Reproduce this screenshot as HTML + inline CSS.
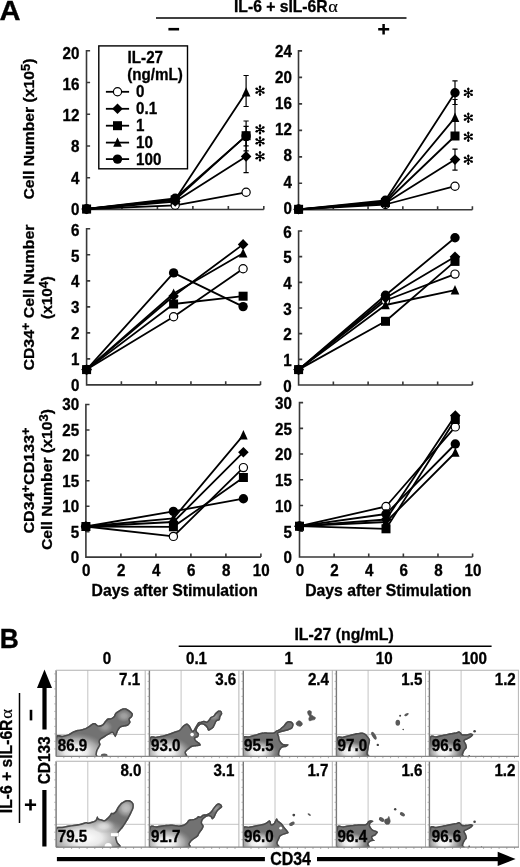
<!DOCTYPE html>
<html><head><meta charset="utf-8"><title>Figure</title>
<style>html,body{margin:0;padding:0;background:#fff;}body{width:520px;height:867px;overflow:hidden;position:relative;font-family:"Liberation Sans", sans-serif;}</style>
</head><body>
<svg width="520" height="867" viewBox="0 0 520 867" style="display:block;position:absolute;left:0;top:0;filter:grayscale(1)" font-family='"Liberation Sans", sans-serif'>
<rect width="520" height="867" fill="#fff"/>
<text transform="translate(-0.4,20.1) scale(1.12,1.06)" font-size="26" text-anchor="start" font-weight="bold" stroke="#000" stroke-width="0.3" >A</text>
<text transform="translate(234.0,12.0) scale(1,1.12)" font-size="15.2" text-anchor="start" font-weight="bold" stroke="#000" stroke-width="0.3" textLength="93.6" lengthAdjust="spacingAndGlyphs" >IL-6 + sIL-6R</text>
<text transform="translate(328.3,11.9)" font-family="Liberation Serif" font-size="16.5" textLength="9.6" lengthAdjust="spacingAndGlyphs" stroke="#000" stroke-width="0.2">&#945;</text>
<path d="M156 18H406.5" stroke="#000" stroke-width="1.5"/>
<path d="M168.4 29.2H179.1" stroke="#000" stroke-width="2.6"/>
<path d="M378.2 29.2H389.2M383.6 24.1V34.6" stroke="#000" stroke-width="2.5"/>
<path d="M90.1 50.8H86.5V209.5H263.8" stroke="#383838" stroke-width="1.6" fill="none" stroke-linejoin="miter"/>
<path d="M86.5 177.76H90.1M86.5 146.02H90.1M86.5 114.28H90.1M86.5 82.54H90.1M121.96 209.5V205.9M157.42 209.5V205.9M192.88 209.5V205.9M228.34 209.5V205.9M263.80 209.5V205.9" stroke="#383838" stroke-width="1.6" fill="none"/>
<text transform="translate(79.5,214.75) scale(1,1.12)" font-size="15.2" text-anchor="end" font-weight="bold" stroke="#000" stroke-width="0.3" >0</text>
<text transform="translate(79.5,183.56) scale(1,1.12)" font-size="15.2" text-anchor="end" font-weight="bold" stroke="#000" stroke-width="0.3" >4</text>
<text transform="translate(79.5,152.37) scale(1,1.12)" font-size="15.2" text-anchor="end" font-weight="bold" stroke="#000" stroke-width="0.3" >8</text>
<text transform="translate(79.5,121.18) scale(1,1.12)" font-size="15.2" text-anchor="end" font-weight="bold" stroke="#000" stroke-width="0.3" >12</text>
<text transform="translate(79.5,89.99) scale(1,1.12)" font-size="15.2" text-anchor="end" font-weight="bold" stroke="#000" stroke-width="0.3" >16</text>
<text transform="translate(79.5,58.8) scale(1,1.12)" font-size="15.2" text-anchor="end" font-weight="bold" stroke="#000" stroke-width="0.3" >20</text>
<rect x="98.8" y="45.9" width="88.7" height="122.9" fill="#fff" stroke="#000" stroke-width="1.4"/>
<text transform="translate(127.6,62.6) scale(1,1.12)" font-size="15.2" text-anchor="start" font-weight="bold" stroke="#000" stroke-width="0.3" >IL-27</text>
<text transform="translate(127.2,80.2) scale(1,1.12)" font-size="15.2" text-anchor="start" font-weight="bold" stroke="#000" stroke-width="0.3" >(ng/mL)</text>
<path d="M105.9 91.8H129.1" stroke="#000" stroke-width="1.8"/>
<circle cx="117.5" cy="91.8" r="4.1" fill="#fff" stroke="#000" stroke-width="1.2"/>
<text transform="translate(136,97.2) scale(1,1.12)" font-size="15.2" text-anchor="start" font-weight="bold" stroke="#000" stroke-width="0.3" >0</text>
<path d="M105.9 108.8H129.1" stroke="#000" stroke-width="1.8"/>
<path d="M117.5 103.5L122.8 108.8L117.5 114.1L112.2 108.8Z" fill="#000"/>
<text transform="translate(136,114.2) scale(1,1.12)" font-size="15.2" text-anchor="start" font-weight="bold" stroke="#000" stroke-width="0.3" >0.1</text>
<path d="M105.9 125.7H129.1" stroke="#000" stroke-width="1.8"/>
<rect x="113.0" y="121.2" width="9.0" height="9.0" fill="#000"/>
<text transform="translate(136,131.1) scale(1,1.12)" font-size="15.2" text-anchor="start" font-weight="bold" stroke="#000" stroke-width="0.3" >1</text>
<path d="M105.9 142.6H129.1" stroke="#000" stroke-width="1.8"/>
<path d="M117.5 137.5L121.8 146.79999999999998L113.2 146.79999999999998Z" fill="#000"/>
<text transform="translate(136,148.0) scale(1,1.12)" font-size="15.2" text-anchor="start" font-weight="bold" stroke="#000" stroke-width="0.3" >10</text>
<path d="M105.9 159.1H129.1" stroke="#000" stroke-width="1.8"/>
<circle cx="117.5" cy="159.1" r="4.7" fill="#000"/>
<text transform="translate(136,164.5) scale(1,1.12)" font-size="15.2" text-anchor="start" font-weight="bold" stroke="#000" stroke-width="0.3" >100</text>
<path d="M246.1 75.5V106.5M243.5 75.5H248.7M243.5 106.5H248.7" stroke="#000" stroke-width="1.2" fill="none"/>
<path d="M246.1 121V150.8M243.5 121H248.7M243.5 150.8H248.7" stroke="#000" stroke-width="1.2" fill="none"/>
<path d="M246.1 126.3V145.8M243.5 126.3H248.7M243.5 145.8H248.7" stroke="#000" stroke-width="1.2" fill="none"/>
<path d="M246.1 140.3V172.7M243.5 140.3H248.7M243.5 172.7H248.7" stroke="#000" stroke-width="1.2" fill="none"/>
<polyline points="86.6,209.0 175.2,205.3 246.1,192.3" fill="none" stroke="#000" stroke-width="1.8" stroke-linejoin="round"/>
<polyline points="86.6,209.0 175.2,201.5 246.1,156.4" fill="none" stroke="#000" stroke-width="1.8" stroke-linejoin="round"/>
<polyline points="86.6,209.0 175.2,199.8 246.1,135.7" fill="none" stroke="#000" stroke-width="1.8" stroke-linejoin="round"/>
<polyline points="86.6,209.0 175.2,199.5 246.1,92.3" fill="none" stroke="#000" stroke-width="1.8" stroke-linejoin="round"/>
<polyline points="86.6,209.0 175.2,198.3 246.1,135.9" fill="none" stroke="#000" stroke-width="1.8" stroke-linejoin="round"/>
<circle cx="86.6" cy="209.0" r="4.1" fill="#fff" stroke="#000" stroke-width="1.2"/>
<circle cx="175.2" cy="205.3" r="4.1" fill="#fff" stroke="#000" stroke-width="1.2"/>
<circle cx="246.1" cy="192.3" r="4.1" fill="#fff" stroke="#000" stroke-width="1.2"/>
<path d="M86.6 203.7L91.89999999999999 209.0L86.6 214.3L81.3 209.0Z" fill="#000"/>
<path d="M175.2 196.2L180.5 201.5L175.2 206.8L169.89999999999998 201.5Z" fill="#000"/>
<path d="M246.1 151.1L251.4 156.4L246.1 161.70000000000002L240.79999999999998 156.4Z" fill="#000"/>
<rect x="82.1" y="204.5" width="9.0" height="9.0" fill="#000"/>
<rect x="170.7" y="195.3" width="9.0" height="9.0" fill="#000"/>
<rect x="241.6" y="131.2" width="9.0" height="9.0" fill="#000"/>
<path d="M86.6 203.9L90.89999999999999 213.2L82.3 213.2Z" fill="#000"/>
<path d="M175.2 194.4L179.5 203.7L170.89999999999998 203.7Z" fill="#000"/>
<path d="M246.1 87.2L250.4 96.5L241.79999999999998 96.5Z" fill="#000"/>
<circle cx="86.6" cy="209.0" r="4.7" fill="#000"/>
<circle cx="175.2" cy="198.3" r="4.7" fill="#000"/>
<circle cx="246.1" cy="135.9" r="4.7" fill="#000"/>
<path d="M260.00 90.70L260.00 86.10M260.00 90.70L263.98 88.40M260.00 90.70L263.98 93.00M260.00 90.70L260.00 95.30M260.00 90.70L256.02 88.40M260.00 90.70L256.02 93.00" stroke="#000" stroke-width="1.2" stroke-linecap="round"/><circle cx="260.00" cy="87.00" r="1.25"/><circle cx="263.20" cy="88.85" r="1.25"/><circle cx="263.20" cy="92.55" r="1.25"/><circle cx="260.00" cy="94.40" r="1.25"/><circle cx="256.80" cy="88.85" r="1.25"/><circle cx="256.80" cy="92.55" r="1.25"/>
<path d="M260.00 129.40L260.00 124.80M260.00 129.40L263.98 127.10M260.00 129.40L263.98 131.70M260.00 129.40L260.00 134.00M260.00 129.40L256.02 127.10M260.00 129.40L256.02 131.70" stroke="#000" stroke-width="1.2" stroke-linecap="round"/><circle cx="260.00" cy="125.70" r="1.25"/><circle cx="263.20" cy="127.55" r="1.25"/><circle cx="263.20" cy="131.25" r="1.25"/><circle cx="260.00" cy="133.10" r="1.25"/><circle cx="256.80" cy="127.55" r="1.25"/><circle cx="256.80" cy="131.25" r="1.25"/>
<path d="M260.00 141.40L260.00 136.80M260.00 141.40L263.98 139.10M260.00 141.40L263.98 143.70M260.00 141.40L260.00 146.00M260.00 141.40L256.02 139.10M260.00 141.40L256.02 143.70" stroke="#000" stroke-width="1.2" stroke-linecap="round"/><circle cx="260.00" cy="137.70" r="1.25"/><circle cx="263.20" cy="139.55" r="1.25"/><circle cx="263.20" cy="143.25" r="1.25"/><circle cx="260.00" cy="145.10" r="1.25"/><circle cx="256.80" cy="139.55" r="1.25"/><circle cx="256.80" cy="143.25" r="1.25"/>
<path d="M260.00 156.30L260.00 151.70M260.00 156.30L263.98 154.00M260.00 156.30L263.98 158.60M260.00 156.30L260.00 160.90M260.00 156.30L256.02 154.00M260.00 156.30L256.02 158.60" stroke="#000" stroke-width="1.2" stroke-linecap="round"/><circle cx="260.00" cy="152.60" r="1.25"/><circle cx="263.20" cy="154.45" r="1.25"/><circle cx="263.20" cy="158.15" r="1.25"/><circle cx="260.00" cy="160.00" r="1.25"/><circle cx="256.80" cy="154.45" r="1.25"/><circle cx="256.80" cy="158.15" r="1.25"/>
<path d="M302.1 50.9H298.5V209.8H472.4" stroke="#383838" stroke-width="1.6" fill="none" stroke-linejoin="miter"/>
<path d="M298.5 183.32H302.1M298.5 156.83H302.1M298.5 130.35H302.1M298.5 103.87H302.1M298.5 77.38H302.1M333.28 209.8V206.20000000000002M368.06 209.8V206.20000000000002M402.84 209.8V206.20000000000002M437.62 209.8V206.20000000000002M472.40 209.8V206.20000000000002" stroke="#383838" stroke-width="1.6" fill="none"/>
<text transform="translate(291.85,213.7) scale(1,1.12)" font-size="15.2" text-anchor="end" font-weight="bold" stroke="#000" stroke-width="0.3" >0</text>
<text transform="translate(291.85,187.55) scale(1,1.12)" font-size="15.2" text-anchor="end" font-weight="bold" stroke="#000" stroke-width="0.3" >4</text>
<text transform="translate(291.85,161.4) scale(1,1.12)" font-size="15.2" text-anchor="end" font-weight="bold" stroke="#000" stroke-width="0.3" >8</text>
<text transform="translate(291.85,135.25) scale(1,1.12)" font-size="15.2" text-anchor="end" font-weight="bold" stroke="#000" stroke-width="0.3" >12</text>
<text transform="translate(291.85,109.1) scale(1,1.12)" font-size="15.2" text-anchor="end" font-weight="bold" stroke="#000" stroke-width="0.3" >16</text>
<text transform="translate(291.85,82.95) scale(1,1.12)" font-size="15.2" text-anchor="end" font-weight="bold" stroke="#000" stroke-width="0.3" >20</text>
<text transform="translate(291.85,56.8) scale(1,1.12)" font-size="15.2" text-anchor="end" font-weight="bold" stroke="#000" stroke-width="0.3" >24</text>
<path d="M455.0 80.8V104.5M452.4 80.8H457.6M452.4 104.5H457.6" stroke="#000" stroke-width="1.2" fill="none"/>
<path d="M455.0 99.5V135.9M452.4 99.5H457.6M452.4 135.9H457.6" stroke="#000" stroke-width="1.2" fill="none"/>
<path d="M455.0 149.2V170.1M452.4 149.2H457.6M452.4 170.1H457.6" stroke="#000" stroke-width="1.2" fill="none"/>
<polyline points="298.6,209.3 385.4,204.5 455.0,186.2" fill="none" stroke="#000" stroke-width="1.8" stroke-linejoin="round"/>
<polyline points="298.6,209.3 385.4,203.2 455.0,159.6" fill="none" stroke="#000" stroke-width="1.8" stroke-linejoin="round"/>
<polyline points="298.6,209.3 385.4,202.5 455.0,136.0" fill="none" stroke="#000" stroke-width="1.8" stroke-linejoin="round"/>
<polyline points="298.6,209.3 385.4,201.5 455.0,117.7" fill="none" stroke="#000" stroke-width="1.8" stroke-linejoin="round"/>
<polyline points="298.6,209.3 385.4,200.3 455.0,92.8" fill="none" stroke="#000" stroke-width="1.8" stroke-linejoin="round"/>
<circle cx="298.6" cy="209.3" r="4.1" fill="#fff" stroke="#000" stroke-width="1.2"/>
<circle cx="385.4" cy="204.5" r="4.1" fill="#fff" stroke="#000" stroke-width="1.2"/>
<circle cx="455.0" cy="186.2" r="4.1" fill="#fff" stroke="#000" stroke-width="1.2"/>
<path d="M298.6 204.0L303.90000000000003 209.3L298.6 214.60000000000002L293.3 209.3Z" fill="#000"/>
<path d="M385.4 197.89999999999998L390.7 203.2L385.4 208.5L380.09999999999997 203.2Z" fill="#000"/>
<path d="M455.0 154.29999999999998L460.3 159.6L455.0 164.9L449.7 159.6Z" fill="#000"/>
<rect x="294.1" y="204.8" width="9.0" height="9.0" fill="#000"/>
<rect x="380.9" y="198.0" width="9.0" height="9.0" fill="#000"/>
<rect x="450.5" y="131.5" width="9.0" height="9.0" fill="#000"/>
<path d="M298.6 204.20000000000002L302.90000000000003 213.5L294.3 213.5Z" fill="#000"/>
<path d="M385.4 196.4L389.7 205.7L381.09999999999997 205.7Z" fill="#000"/>
<path d="M455.0 112.60000000000001L459.3 121.9L450.7 121.9Z" fill="#000"/>
<circle cx="298.6" cy="209.3" r="4.7" fill="#000"/>
<circle cx="385.4" cy="200.3" r="4.7" fill="#000"/>
<circle cx="455.0" cy="92.8" r="4.7" fill="#000"/>
<path d="M468.30 92.80L468.30 88.20M468.30 92.80L472.28 90.50M468.30 92.80L472.28 95.10M468.30 92.80L468.30 97.40M468.30 92.80L464.32 90.50M468.30 92.80L464.32 95.10" stroke="#000" stroke-width="1.2" stroke-linecap="round"/><circle cx="468.30" cy="89.10" r="1.25"/><circle cx="471.50" cy="90.95" r="1.25"/><circle cx="471.50" cy="94.65" r="1.25"/><circle cx="468.30" cy="96.50" r="1.25"/><circle cx="465.10" cy="90.95" r="1.25"/><circle cx="465.10" cy="94.65" r="1.25"/>
<path d="M468.30 117.70L468.30 113.10M468.30 117.70L472.28 115.40M468.30 117.70L472.28 120.00M468.30 117.70L468.30 122.30M468.30 117.70L464.32 115.40M468.30 117.70L464.32 120.00" stroke="#000" stroke-width="1.2" stroke-linecap="round"/><circle cx="468.30" cy="114.00" r="1.25"/><circle cx="471.50" cy="115.85" r="1.25"/><circle cx="471.50" cy="119.55" r="1.25"/><circle cx="468.30" cy="121.40" r="1.25"/><circle cx="465.10" cy="115.85" r="1.25"/><circle cx="465.10" cy="119.55" r="1.25"/>
<path d="M468.30 136.70L468.30 132.10M468.30 136.70L472.28 134.40M468.30 136.70L472.28 139.00M468.30 136.70L468.30 141.30M468.30 136.70L464.32 134.40M468.30 136.70L464.32 139.00" stroke="#000" stroke-width="1.2" stroke-linecap="round"/><circle cx="468.30" cy="133.00" r="1.25"/><circle cx="471.50" cy="134.85" r="1.25"/><circle cx="471.50" cy="138.55" r="1.25"/><circle cx="468.30" cy="140.40" r="1.25"/><circle cx="465.10" cy="134.85" r="1.25"/><circle cx="465.10" cy="138.55" r="1.25"/>
<path d="M468.30 159.70L468.30 155.10M468.30 159.70L472.28 157.40M468.30 159.70L472.28 162.00M468.30 159.70L468.30 164.30M468.30 159.70L464.32 157.40M468.30 159.70L464.32 162.00" stroke="#000" stroke-width="1.2" stroke-linecap="round"/><circle cx="468.30" cy="156.00" r="1.25"/><circle cx="471.50" cy="157.85" r="1.25"/><circle cx="471.50" cy="161.55" r="1.25"/><circle cx="468.30" cy="163.40" r="1.25"/><circle cx="465.10" cy="157.85" r="1.25"/><circle cx="465.10" cy="161.55" r="1.25"/>
<path d="M90.19999999999999 228.8H86.6V384.9H260.5" stroke="#383838" stroke-width="1.6" fill="none" stroke-linejoin="miter"/>
<path d="M86.6 358.88H90.19999999999999M86.6 332.87H90.19999999999999M86.6 306.85H90.19999999999999M86.6 280.83H90.19999999999999M86.6 254.82H90.19999999999999M121.38 384.9V381.29999999999995M156.16 384.9V381.29999999999995M190.94 384.9V381.29999999999995M225.72 384.9V381.29999999999995M260.50 384.9V381.29999999999995" stroke="#383838" stroke-width="1.6" fill="none"/>
<text transform="translate(79.5,391.05) scale(1,1.12)" font-size="15.2" text-anchor="end" font-weight="bold" stroke="#000" stroke-width="0.3" >0</text>
<text transform="translate(79.5,365.16) scale(1,1.12)" font-size="15.2" text-anchor="end" font-weight="bold" stroke="#000" stroke-width="0.3" >1</text>
<text transform="translate(79.5,339.27) scale(1,1.12)" font-size="15.2" text-anchor="end" font-weight="bold" stroke="#000" stroke-width="0.3" >2</text>
<text transform="translate(79.5,313.38) scale(1,1.12)" font-size="15.2" text-anchor="end" font-weight="bold" stroke="#000" stroke-width="0.3" >3</text>
<text transform="translate(79.5,287.48) scale(1,1.12)" font-size="15.2" text-anchor="end" font-weight="bold" stroke="#000" stroke-width="0.3" >4</text>
<text transform="translate(79.5,261.59) scale(1,1.12)" font-size="15.2" text-anchor="end" font-weight="bold" stroke="#000" stroke-width="0.3" >5</text>
<text transform="translate(79.5,235.7) scale(1,1.12)" font-size="15.2" text-anchor="end" font-weight="bold" stroke="#000" stroke-width="0.3" >6</text>
<polyline points="86.6,369.6 173.6,316.7 243.1,268.7" fill="none" stroke="#000" stroke-width="1.8" stroke-linejoin="round"/>
<polyline points="86.6,369.6 173.6,296.0 243.1,244.4" fill="none" stroke="#000" stroke-width="1.8" stroke-linejoin="round"/>
<polyline points="86.6,369.6 173.6,304.0 243.1,296.2" fill="none" stroke="#000" stroke-width="1.8" stroke-linejoin="round"/>
<polyline points="86.6,369.6 173.6,293.5 243.1,253.3" fill="none" stroke="#000" stroke-width="1.8" stroke-linejoin="round"/>
<polyline points="86.6,369.6 173.6,272.9 243.1,306.6" fill="none" stroke="#000" stroke-width="1.8" stroke-linejoin="round"/>
<circle cx="86.6" cy="369.6" r="4.1" fill="#fff" stroke="#000" stroke-width="1.2"/>
<circle cx="173.6" cy="316.7" r="4.1" fill="#fff" stroke="#000" stroke-width="1.2"/>
<circle cx="243.1" cy="268.7" r="4.1" fill="#fff" stroke="#000" stroke-width="1.2"/>
<path d="M86.6 364.3L91.89999999999999 369.6L86.6 374.90000000000003L81.3 369.6Z" fill="#000"/>
<path d="M173.6 290.7L178.9 296.0L173.6 301.3L168.29999999999998 296.0Z" fill="#000"/>
<path d="M243.1 239.1L248.4 244.4L243.1 249.70000000000002L237.79999999999998 244.4Z" fill="#000"/>
<rect x="82.1" y="365.1" width="9.0" height="9.0" fill="#000"/>
<rect x="169.1" y="299.5" width="9.0" height="9.0" fill="#000"/>
<rect x="238.6" y="291.7" width="9.0" height="9.0" fill="#000"/>
<path d="M86.6 364.5L90.89999999999999 373.8L82.3 373.8Z" fill="#000"/>
<path d="M173.6 288.4L177.9 297.7L169.29999999999998 297.7Z" fill="#000"/>
<path d="M243.1 248.20000000000002L247.4 257.5L238.79999999999998 257.5Z" fill="#000"/>
<circle cx="86.6" cy="369.6" r="4.7" fill="#000"/>
<circle cx="173.6" cy="272.9" r="4.7" fill="#000"/>
<circle cx="243.1" cy="306.6" r="4.7" fill="#000"/>
<path d="M302.20000000000005 231.0H298.6V385.0H472.4" stroke="#383838" stroke-width="1.6" fill="none" stroke-linejoin="miter"/>
<path d="M298.6 359.33H302.20000000000005M298.6 333.67H302.20000000000005M298.6 308.00H302.20000000000005M298.6 282.33H302.20000000000005M298.6 256.67H302.20000000000005M333.36 385.0V381.4M368.12 385.0V381.4M402.88 385.0V381.4M437.64 385.0V381.4M472.40 385.0V381.4" stroke="#383838" stroke-width="1.6" fill="none"/>
<text transform="translate(291.7,391.55) scale(1,1.12)" font-size="15.2" text-anchor="end" font-weight="bold" stroke="#000" stroke-width="0.3" >0</text>
<text transform="translate(291.7,365.88) scale(1,1.12)" font-size="15.2" text-anchor="end" font-weight="bold" stroke="#000" stroke-width="0.3" >1</text>
<text transform="translate(291.7,340.22) scale(1,1.12)" font-size="15.2" text-anchor="end" font-weight="bold" stroke="#000" stroke-width="0.3" >2</text>
<text transform="translate(291.7,314.55) scale(1,1.12)" font-size="15.2" text-anchor="end" font-weight="bold" stroke="#000" stroke-width="0.3" >3</text>
<text transform="translate(291.7,288.88) scale(1,1.12)" font-size="15.2" text-anchor="end" font-weight="bold" stroke="#000" stroke-width="0.3" >4</text>
<text transform="translate(291.7,263.22) scale(1,1.12)" font-size="15.2" text-anchor="end" font-weight="bold" stroke="#000" stroke-width="0.3" >5</text>
<text transform="translate(291.7,237.55) scale(1,1.12)" font-size="15.2" text-anchor="end" font-weight="bold" stroke="#000" stroke-width="0.3" >6</text>
<polyline points="298.6,369.6 385.5,300.5 455.0,274.1" fill="none" stroke="#000" stroke-width="1.8" stroke-linejoin="round"/>
<polyline points="298.6,369.6 385.5,298.0 455.0,256.7" fill="none" stroke="#000" stroke-width="1.8" stroke-linejoin="round"/>
<polyline points="298.6,369.6 385.5,321.3 455.0,261.4" fill="none" stroke="#000" stroke-width="1.8" stroke-linejoin="round"/>
<polyline points="298.6,369.6 385.5,305.0 455.0,290.2" fill="none" stroke="#000" stroke-width="1.8" stroke-linejoin="round"/>
<polyline points="298.6,369.6 385.5,295.2 455.0,237.7" fill="none" stroke="#000" stroke-width="1.8" stroke-linejoin="round"/>
<circle cx="298.6" cy="369.6" r="4.1" fill="#fff" stroke="#000" stroke-width="1.2"/>
<circle cx="385.5" cy="300.5" r="4.1" fill="#fff" stroke="#000" stroke-width="1.2"/>
<circle cx="455.0" cy="274.1" r="4.1" fill="#fff" stroke="#000" stroke-width="1.2"/>
<path d="M298.6 364.3L303.90000000000003 369.6L298.6 374.90000000000003L293.3 369.6Z" fill="#000"/>
<path d="M385.5 292.7L390.8 298.0L385.5 303.3L380.2 298.0Z" fill="#000"/>
<path d="M455.0 251.39999999999998L460.3 256.7L455.0 262.0L449.7 256.7Z" fill="#000"/>
<rect x="294.1" y="365.1" width="9.0" height="9.0" fill="#000"/>
<rect x="381.0" y="316.8" width="9.0" height="9.0" fill="#000"/>
<rect x="450.5" y="256.9" width="9.0" height="9.0" fill="#000"/>
<path d="M298.6 364.5L302.90000000000003 373.8L294.3 373.8Z" fill="#000"/>
<path d="M385.5 299.9L389.8 309.2L381.2 309.2Z" fill="#000"/>
<path d="M455.0 285.09999999999997L459.3 294.4L450.7 294.4Z" fill="#000"/>
<circle cx="298.6" cy="369.6" r="4.7" fill="#000"/>
<circle cx="385.5" cy="295.2" r="4.7" fill="#000"/>
<circle cx="455.0" cy="237.7" r="4.7" fill="#000"/>
<path d="M89.5 404.5H85.9V557.1H260.9" stroke="#383838" stroke-width="1.6" fill="none" stroke-linejoin="miter"/>
<path d="M85.9 531.67H89.5M85.9 506.23H89.5M85.9 480.80H89.5M85.9 455.37H89.5M85.9 429.93H89.5M120.90 557.1V553.5M155.90 557.1V553.5M190.90 557.1V553.5M225.90 557.1V553.5M260.90 557.1V553.5" stroke="#383838" stroke-width="1.6" fill="none"/>
<text transform="translate(79.2,563.4) scale(1,1.12)" font-size="15.2" text-anchor="end" font-weight="bold" stroke="#000" stroke-width="0.3" >0</text>
<text transform="translate(79.2,537.9) scale(1,1.12)" font-size="15.2" text-anchor="end" font-weight="bold" stroke="#000" stroke-width="0.3" >5</text>
<text transform="translate(79.2,512.4) scale(1,1.12)" font-size="15.2" text-anchor="end" font-weight="bold" stroke="#000" stroke-width="0.3" >10</text>
<text transform="translate(79.2,486.9) scale(1,1.12)" font-size="15.2" text-anchor="end" font-weight="bold" stroke="#000" stroke-width="0.3" >15</text>
<text transform="translate(79.2,461.4) scale(1,1.12)" font-size="15.2" text-anchor="end" font-weight="bold" stroke="#000" stroke-width="0.3" >20</text>
<text transform="translate(79.2,435.9) scale(1,1.12)" font-size="15.2" text-anchor="end" font-weight="bold" stroke="#000" stroke-width="0.3" >25</text>
<text transform="translate(79.2,410.4) scale(1,1.12)" font-size="15.2" text-anchor="end" font-weight="bold" stroke="#000" stroke-width="0.3" >30</text>
<text transform="translate(86.30000000000001,575.6) scale(1,1.12)" font-size="15.2" text-anchor="middle" font-weight="bold" stroke="#000" stroke-width="0.3" >0</text>
<text transform="translate(121.30000000000001,575.6) scale(1,1.12)" font-size="15.2" text-anchor="middle" font-weight="bold" stroke="#000" stroke-width="0.3" >2</text>
<text transform="translate(156.29999999999998,575.6) scale(1,1.12)" font-size="15.2" text-anchor="middle" font-weight="bold" stroke="#000" stroke-width="0.3" >4</text>
<text transform="translate(191.29999999999998,575.6) scale(1,1.12)" font-size="15.2" text-anchor="middle" font-weight="bold" stroke="#000" stroke-width="0.3" >6</text>
<text transform="translate(226.29999999999998,575.6) scale(1,1.12)" font-size="15.2" text-anchor="middle" font-weight="bold" stroke="#000" stroke-width="0.3" >8</text>
<text transform="translate(261.29999999999995,575.6) scale(1,1.12)" font-size="15.2" text-anchor="middle" font-weight="bold" stroke="#000" stroke-width="0.3" >10</text>
<polyline points="85.9,526.5 173.4,536.4 243.4,467.6" fill="none" stroke="#000" stroke-width="1.8" stroke-linejoin="round"/>
<polyline points="85.9,526.5 173.4,522.0 243.4,452.2" fill="none" stroke="#000" stroke-width="1.8" stroke-linejoin="round"/>
<polyline points="85.9,526.5 173.4,526.8 243.4,477.5" fill="none" stroke="#000" stroke-width="1.8" stroke-linejoin="round"/>
<polyline points="85.9,526.5 173.4,518.4 243.4,435.2" fill="none" stroke="#000" stroke-width="1.8" stroke-linejoin="round"/>
<polyline points="85.9,526.5 173.4,511.4 243.4,498.7" fill="none" stroke="#000" stroke-width="1.8" stroke-linejoin="round"/>
<circle cx="85.9" cy="526.5" r="4.1" fill="#fff" stroke="#000" stroke-width="1.2"/>
<circle cx="173.4" cy="536.4" r="4.1" fill="#fff" stroke="#000" stroke-width="1.2"/>
<circle cx="243.4" cy="467.6" r="4.1" fill="#fff" stroke="#000" stroke-width="1.2"/>
<path d="M85.9 521.2L91.2 526.5L85.9 531.8L80.60000000000001 526.5Z" fill="#000"/>
<path d="M173.4 516.7L178.70000000000002 522.0L173.4 527.3L168.1 522.0Z" fill="#000"/>
<path d="M243.4 446.9L248.70000000000002 452.2L243.4 457.5L238.1 452.2Z" fill="#000"/>
<rect x="81.4" y="522.0" width="9.0" height="9.0" fill="#000"/>
<rect x="168.9" y="522.3" width="9.0" height="9.0" fill="#000"/>
<rect x="238.9" y="473.0" width="9.0" height="9.0" fill="#000"/>
<path d="M85.9 521.4L90.2 530.7L81.60000000000001 530.7Z" fill="#000"/>
<path d="M173.4 513.3L177.70000000000002 522.6L169.1 522.6Z" fill="#000"/>
<path d="M243.4 430.09999999999997L247.70000000000002 439.4L239.1 439.4Z" fill="#000"/>
<circle cx="85.9" cy="526.5" r="4.7" fill="#000"/>
<circle cx="173.4" cy="511.4" r="4.7" fill="#000"/>
<circle cx="243.4" cy="498.7" r="4.7" fill="#000"/>
<path d="M303.1 402.6H299.5V557.0H472.6" stroke="#383838" stroke-width="1.6" fill="none" stroke-linejoin="miter"/>
<path d="M299.5 531.27H303.1M299.5 505.53H303.1M299.5 479.80H303.1M299.5 454.07H303.1M299.5 428.33H303.1M334.12 557.0V553.4M368.74 557.0V553.4M403.36 557.0V553.4M437.98 557.0V553.4M472.60 557.0V553.4" stroke="#383838" stroke-width="1.6" fill="none"/>
<text transform="translate(291.85,563.3) scale(1,1.12)" font-size="15.2" text-anchor="end" font-weight="bold" stroke="#000" stroke-width="0.3" >0</text>
<text transform="translate(291.85,537.55) scale(1,1.12)" font-size="15.2" text-anchor="end" font-weight="bold" stroke="#000" stroke-width="0.3" >5</text>
<text transform="translate(291.85,511.8) scale(1,1.12)" font-size="15.2" text-anchor="end" font-weight="bold" stroke="#000" stroke-width="0.3" >10</text>
<text transform="translate(291.85,486.05) scale(1,1.12)" font-size="15.2" text-anchor="end" font-weight="bold" stroke="#000" stroke-width="0.3" >15</text>
<text transform="translate(291.85,460.3) scale(1,1.12)" font-size="15.2" text-anchor="end" font-weight="bold" stroke="#000" stroke-width="0.3" >20</text>
<text transform="translate(291.85,434.55) scale(1,1.12)" font-size="15.2" text-anchor="end" font-weight="bold" stroke="#000" stroke-width="0.3" >25</text>
<text transform="translate(291.85,408.8) scale(1,1.12)" font-size="15.2" text-anchor="end" font-weight="bold" stroke="#000" stroke-width="0.3" >30</text>
<text transform="translate(299.9,575.6) scale(1,1.12)" font-size="15.2" text-anchor="middle" font-weight="bold" stroke="#000" stroke-width="0.3" >0</text>
<text transform="translate(334.52,575.6) scale(1,1.12)" font-size="15.2" text-anchor="middle" font-weight="bold" stroke="#000" stroke-width="0.3" >2</text>
<text transform="translate(369.14,575.6) scale(1,1.12)" font-size="15.2" text-anchor="middle" font-weight="bold" stroke="#000" stroke-width="0.3" >4</text>
<text transform="translate(403.76,575.6) scale(1,1.12)" font-size="15.2" text-anchor="middle" font-weight="bold" stroke="#000" stroke-width="0.3" >6</text>
<text transform="translate(438.38,575.6) scale(1,1.12)" font-size="15.2" text-anchor="middle" font-weight="bold" stroke="#000" stroke-width="0.3" >8</text>
<text transform="translate(473.0,575.6) scale(1,1.12)" font-size="15.2" text-anchor="middle" font-weight="bold" stroke="#000" stroke-width="0.3" >10</text>
<polyline points="299.5,526.2 386.0,506.5 455.3,426.9" fill="none" stroke="#000" stroke-width="1.8" stroke-linejoin="round"/>
<polyline points="299.5,526.2 386.0,519.5 455.3,415.5" fill="none" stroke="#000" stroke-width="1.8" stroke-linejoin="round"/>
<polyline points="299.5,526.2 386.0,528.8 455.3,419.5" fill="none" stroke="#000" stroke-width="1.8" stroke-linejoin="round"/>
<polyline points="299.5,526.2 386.0,522.0 455.3,452.5" fill="none" stroke="#000" stroke-width="1.8" stroke-linejoin="round"/>
<polyline points="299.5,526.2 386.0,514.0 455.3,444.0" fill="none" stroke="#000" stroke-width="1.8" stroke-linejoin="round"/>
<circle cx="299.5" cy="526.2" r="4.1" fill="#fff" stroke="#000" stroke-width="1.2"/>
<circle cx="386.0" cy="506.5" r="4.1" fill="#fff" stroke="#000" stroke-width="1.2"/>
<circle cx="455.3" cy="426.9" r="4.1" fill="#fff" stroke="#000" stroke-width="1.2"/>
<path d="M299.5 520.9000000000001L304.8 526.2L299.5 531.5L294.2 526.2Z" fill="#000"/>
<path d="M386.0 514.2L391.3 519.5L386.0 524.8L380.7 519.5Z" fill="#000"/>
<path d="M455.3 410.2L460.6 415.5L455.3 420.8L450.0 415.5Z" fill="#000"/>
<rect x="295.0" y="521.7" width="9.0" height="9.0" fill="#000"/>
<rect x="381.5" y="524.3" width="9.0" height="9.0" fill="#000"/>
<rect x="450.8" y="415.0" width="9.0" height="9.0" fill="#000"/>
<path d="M299.5 521.1L303.8 530.4000000000001L295.2 530.4000000000001Z" fill="#000"/>
<path d="M386.0 516.9L390.3 526.2L381.7 526.2Z" fill="#000"/>
<path d="M455.3 447.4L459.6 456.7L451.0 456.7Z" fill="#000"/>
<circle cx="299.5" cy="526.2" r="4.7" fill="#000"/>
<circle cx="386.0" cy="514.0" r="4.7" fill="#000"/>
<circle cx="455.3" cy="444.0" r="4.7" fill="#000"/>
<text transform="translate(91.6,596) scale(1,1.12)" font-size="15.5" text-anchor="start" font-weight="bold" stroke="#000" stroke-width="0.3" textLength="166.3" lengthAdjust="spacingAndGlyphs" >Days after Stimulation</text>
<text transform="translate(305.2,596) scale(1,1.12)" font-size="15.5" text-anchor="start" font-weight="bold" stroke="#000" stroke-width="0.3" textLength="166.3" lengthAdjust="spacingAndGlyphs" >Days after Stimulation</text>
<text transform="translate(33.9,129) rotate(-90) scale(1,1.02)" x="0" y="0" font-size="15.2" text-anchor="middle" font-weight="bold" stroke="#000" stroke-width="0.3" textLength="141" lengthAdjust="spacingAndGlyphs">Cell Number (x10<tspan font-size="12.5" dy="-3.8">5</tspan><tspan dy="3.8">)</tspan></text>
<text transform="translate(33.9,297.6) rotate(-90) scale(1,1.02)" x="0" y="0" font-size="15.2" text-anchor="middle" font-weight="bold" stroke="#000" stroke-width="0.3" textLength="146.0" lengthAdjust="spacingAndGlyphs">CD34<tspan font-size="12" dy="-4">+</tspan><tspan dy="4"> Cell Number</tspan></text>
<text transform="translate(51.5,297.5) rotate(-90) scale(1,1.02)" x="0" y="0" font-size="15.2" text-anchor="middle" font-weight="bold" stroke="#000" stroke-width="0.3" textLength="43" lengthAdjust="spacingAndGlyphs">(x10<tspan font-size="12.5" dy="-3.8">4</tspan><tspan dy="3.8">)</tspan></text>
<text transform="translate(33.8,480.5) rotate(-90) scale(1,1.02)" x="0" y="0" font-size="15.2" text-anchor="middle" font-weight="bold" stroke="#000" stroke-width="0.3" textLength="106.0" lengthAdjust="spacingAndGlyphs">CD34<tspan font-size="12" dy="-4">+</tspan><tspan dy="4">CD133</tspan><tspan font-size="12" dy="-4">+</tspan></text>
<text transform="translate(51.5,479.6) rotate(-90) scale(1,1.02)" x="0" y="0" font-size="15.2" text-anchor="middle" font-weight="bold" stroke="#000" stroke-width="0.3" textLength="141" lengthAdjust="spacingAndGlyphs">Cell Number (x10<tspan font-size="12.5" dy="-3.8">3</tspan><tspan dy="3.8">)</tspan></text>
<text transform="translate(-0.3,648.2) scale(1.1,1.12)" font-size="24" text-anchor="start" font-weight="bold" stroke="#000" stroke-width="0.3" >B</text>
<defs>
<clipPath id="cp00"><rect x="56.1" y="670.2" width="89.1" height="86.19999999999993"/></clipPath>
<radialGradient id="g00_0" gradientUnits="userSpaceOnUse" cx="76" cy="752" r="32" gradientTransform="translate(76 752) scale(1 0.6) translate(-76 -752)"><stop offset="0" stop-color="#fff" stop-opacity="1"/><stop offset="0.35" stop-color="#f0f0f0" stop-opacity="0.950"/><stop offset="0.7" stop-color="#c8c8c8" stop-opacity="0.600"/><stop offset="1" stop-color="#999" stop-opacity="0"/></radialGradient>
<radialGradient id="g00_1" gradientUnits="userSpaceOnUse" cx="124" cy="716" r="8" gradientTransform="translate(124 716) scale(1 0.8) translate(-124 -716)"><stop offset="0" stop-color="#fff" stop-opacity="0.35"/><stop offset="0.35" stop-color="#f0f0f0" stop-opacity="0.332"/><stop offset="0.7" stop-color="#c8c8c8" stop-opacity="0.210"/><stop offset="1" stop-color="#999" stop-opacity="0"/></radialGradient>
<radialGradient id="g00_2" gradientUnits="userSpaceOnUse" cx="105" cy="727" r="8" gradientTransform="translate(105 727) scale(1 0.8) translate(-105 -727)"><stop offset="0" stop-color="#fff" stop-opacity="0.3"/><stop offset="0.35" stop-color="#f0f0f0" stop-opacity="0.285"/><stop offset="0.7" stop-color="#c8c8c8" stop-opacity="0.180"/><stop offset="1" stop-color="#999" stop-opacity="0"/></radialGradient>
<clipPath id="bc00"><path d="M56.0 736.6C56.8 733.6 60.6 736.0 62.2 735.7C63.8 735.4 66.9 734.8 68.3 734.2C69.7 733.6 71.8 732.1 72.9 731.5C74.0 730.9 75.7 730.3 76.8 730.0C77.9 729.7 80.2 729.5 81.4 729.2C82.6 728.9 85.0 728.2 86.0 727.7C87.0 727.2 88.3 726.4 89.1 725.8C89.9 725.2 91.4 723.8 92.2 723.4C93.0 723.0 94.4 722.8 95.2 723.1C96.0 723.4 97.4 725.2 98.3 725.4C99.2 725.6 101.3 725.2 102.2 724.6C103.1 724.0 104.5 721.6 105.2 720.8C105.9 720.0 106.8 718.8 107.5 718.5C108.2 718.2 109.8 718.5 110.6 718.2C111.4 717.9 113.1 716.9 113.7 716.2C114.3 715.5 114.6 713.8 115.2 713.1C115.8 712.4 117.4 711.4 118.3 710.8C119.2 710.2 121.2 708.8 122.2 708.5C123.2 708.2 125.0 708.0 126.0 708.3C127.0 708.6 128.9 709.9 129.8 710.6C130.7 711.3 132.6 713.0 132.9 713.8C133.2 714.6 132.6 716.2 132.2 716.9C131.8 717.6 130.0 718.5 129.8 719.2C129.6 719.9 130.8 721.5 130.6 722.3C130.4 723.1 129.1 724.8 128.3 725.4C127.5 726.0 125.5 726.2 124.5 726.5C123.5 726.8 121.4 727.1 120.6 727.7C119.8 728.3 118.8 729.9 118.3 730.8C117.8 731.7 117.2 733.7 116.8 734.6C116.4 735.5 115.8 737.1 115.4 737.2C115.0 737.3 114.1 735.6 113.7 735.1C113.3 734.6 112.8 733.2 112.2 733.1C111.6 733.0 110.0 734.1 109.1 734.6C108.2 735.1 106.2 736.3 105.2 736.9C104.2 737.5 102.1 738.6 101.4 739.2C100.7 739.8 99.9 740.8 99.8 741.5C99.7 742.2 100.7 743.8 100.6 744.6C100.5 745.4 99.5 746.9 99.1 747.7C98.7 748.5 97.8 749.9 97.5 750.8C97.2 751.7 97.0 753.6 96.8 754.6C96.6 755.6 101.4 757.5 96.0 758.0C90.6 758.5 61.3 760.9 56.0 758.0C50.7 755.1 55.2 739.6 56.0 736.6Z"/></clipPath>
<clipPath id="cp01"><rect x="149.4" y="670.2" width="89.5" height="86.19999999999993"/></clipPath>
<radialGradient id="g01_0" gradientUnits="userSpaceOnUse" cx="166" cy="752" r="26" gradientTransform="translate(166 752) scale(1 0.6) translate(-166 -752)"><stop offset="0" stop-color="#fff" stop-opacity="1"/><stop offset="0.35" stop-color="#f0f0f0" stop-opacity="0.950"/><stop offset="0.7" stop-color="#c8c8c8" stop-opacity="0.600"/><stop offset="1" stop-color="#999" stop-opacity="0"/></radialGradient>
<radialGradient id="g01_1" gradientUnits="userSpaceOnUse" cx="214" cy="716" r="6" gradientTransform="translate(214 716) scale(1 0.8) translate(-214 -716)"><stop offset="0" stop-color="#fff" stop-opacity="0.3"/><stop offset="0.35" stop-color="#f0f0f0" stop-opacity="0.285"/><stop offset="0.7" stop-color="#c8c8c8" stop-opacity="0.180"/><stop offset="1" stop-color="#999" stop-opacity="0"/></radialGradient>
<clipPath id="bc01"><path d="M149.8 737.7C150.7 734.8 154.8 736.9 156.7 736.6C158.6 736.3 162.6 735.6 164.4 735.1C166.2 734.6 169.2 733.6 170.5 733.1C171.8 732.6 173.3 731.9 174.4 731.5C175.5 731.1 178.1 730.5 179.0 730.0C179.9 729.5 180.6 728.1 181.3 727.4C182.0 726.7 183.6 725.1 184.4 724.6C185.2 724.1 186.5 723.4 187.2 723.6C187.9 723.8 189.3 725.1 189.8 725.8C190.3 726.5 190.9 727.8 191.3 728.5C191.7 729.2 192.4 730.8 192.8 730.8C193.2 730.8 193.9 729.3 194.4 728.5C194.9 727.7 196.2 725.4 196.7 724.6C197.2 723.8 197.6 722.7 198.2 722.3C198.8 721.9 200.6 721.7 201.3 721.5C202.0 721.3 202.9 720.8 203.6 720.8C204.3 720.8 206.0 721.7 206.7 721.5C207.4 721.3 208.5 719.8 209.0 719.2C209.5 718.6 209.9 717.4 210.5 716.9C211.1 716.4 213.0 715.9 213.6 715.4C214.2 714.9 214.6 713.7 215.2 713.1C215.8 712.5 217.4 710.9 218.2 710.6C219.0 710.3 220.8 710.5 221.3 710.9C221.8 711.3 222.4 713.0 222.3 713.8C222.2 714.6 220.8 716.1 220.5 716.9C220.2 717.7 220.3 719.4 219.8 720.0C219.3 720.6 217.3 720.9 216.7 721.5C216.1 722.1 215.6 723.8 215.2 724.6C214.8 725.4 214.2 727.0 213.6 727.7C213.0 728.4 211.2 729.6 210.5 730.0C209.8 730.4 208.7 731.1 208.2 730.8C207.7 730.5 207.2 728.4 206.7 727.7C206.2 727.0 205.1 725.8 204.4 725.4C203.7 725.0 202.1 724.4 201.3 724.6C200.5 724.8 198.8 726.1 198.2 726.9C197.6 727.7 196.6 729.9 196.7 730.8C196.8 731.7 198.8 733.0 199.0 733.8C199.2 734.6 198.7 736.3 198.2 736.9C197.7 737.5 195.4 738.0 195.2 738.5C195.0 739.0 196.1 740.2 196.7 740.8C197.3 741.4 199.3 742.5 199.8 743.1C200.3 743.7 201.1 745.0 200.7 745.4C200.3 745.8 197.8 746.0 196.7 746.2C195.6 746.4 193.1 746.5 192.1 746.9C191.1 747.3 189.8 748.5 189.0 749.2C188.2 749.9 186.4 751.1 185.9 752.3C185.4 753.5 190.0 757.2 185.2 758.0C180.4 758.8 154.5 760.7 149.8 758.0C145.1 755.3 148.9 740.6 149.8 737.7Z"/></clipPath>
<clipPath id="cp02"><rect x="243.3" y="670.2" width="89.0" height="86.19999999999993"/></clipPath>
<radialGradient id="g02_0" gradientUnits="userSpaceOnUse" cx="258" cy="752" r="20" gradientTransform="translate(258 752) scale(1 0.6) translate(-258 -752)"><stop offset="0" stop-color="#fff" stop-opacity="1"/><stop offset="0.35" stop-color="#f0f0f0" stop-opacity="0.950"/><stop offset="0.7" stop-color="#c8c8c8" stop-opacity="0.600"/><stop offset="1" stop-color="#999" stop-opacity="0"/></radialGradient>
<clipPath id="bc02"><path d="M243.0 737.7C243.8 734.8 247.6 736.6 249.2 736.2C250.8 735.8 253.9 735.0 255.3 734.6C256.7 734.2 258.7 733.4 259.9 733.1C261.1 732.8 263.2 732.4 264.5 732.3C265.8 732.2 268.7 732.6 269.9 732.6C271.1 732.6 273.0 732.6 273.8 732.3C274.6 732.0 275.4 730.9 276.1 730.5C276.8 730.1 278.5 729.6 279.2 729.2C279.9 728.8 280.6 727.9 281.2 727.4C281.8 726.9 283.2 725.8 283.8 725.2C284.4 724.6 285.2 723.2 285.8 722.6C286.4 722.0 287.6 721.1 288.4 721.0C289.2 720.9 290.8 721.2 291.5 721.6C292.2 722.0 293.5 723.3 293.6 724.2C293.7 725.1 293.1 727.4 292.4 728.2C291.7 729.0 289.3 730.0 288.2 730.4C287.1 730.8 285.2 731.1 284.2 731.4C283.2 731.7 281.2 732.1 280.4 732.4C279.6 732.7 278.4 733.1 278.2 733.6C278.0 734.1 279.0 735.3 279.2 736.2C279.4 737.1 279.4 739.0 279.9 740.0C280.4 741.0 281.8 743.2 283.0 743.8C284.2 744.4 288.2 744.2 288.6 744.6C289.0 745.0 287.0 746.5 286.1 746.9C285.2 747.3 283.0 747.2 282.2 747.7C281.4 748.2 280.3 749.9 279.9 750.8C279.5 751.7 279.2 753.6 279.2 754.6C279.2 755.6 284.7 757.5 279.9 758.0C275.1 758.5 247.9 760.7 243.0 758.0C238.1 755.3 242.2 740.6 243.0 737.7Z"/></clipPath>
<clipPath id="cp03"><rect x="336.4" y="670.2" width="89.10000000000002" height="86.19999999999993"/></clipPath>
<radialGradient id="g03_0" gradientUnits="userSpaceOnUse" cx="350" cy="752" r="18" gradientTransform="translate(350 752) scale(1 0.6) translate(-350 -752)"><stop offset="0" stop-color="#fff" stop-opacity="1"/><stop offset="0.35" stop-color="#f0f0f0" stop-opacity="0.950"/><stop offset="0.7" stop-color="#c8c8c8" stop-opacity="0.600"/><stop offset="1" stop-color="#999" stop-opacity="0"/></radialGradient>
<clipPath id="bc03"><path d="M337.0 737.7C337.8 734.8 341.4 737.0 343.2 736.6C345.0 736.2 349.0 735.1 350.8 734.6C352.6 734.1 355.5 733.4 357.0 733.1C358.5 732.8 361.3 732.3 362.4 732.4C363.5 732.5 364.8 733.3 365.5 733.8C366.2 734.3 367.2 735.4 367.8 736.2C368.4 737.0 369.9 738.9 370.1 740.0C370.3 741.1 369.5 743.4 369.3 744.6C369.1 745.8 368.7 748.0 368.5 749.2C368.3 750.4 367.8 752.6 367.8 753.8C367.8 755.0 372.6 757.4 368.5 758.0C364.4 758.6 341.2 760.7 337.0 758.0C332.8 755.3 336.2 740.6 337.0 737.7Z"/></clipPath>
<clipPath id="cp04"><rect x="429.4" y="670.2" width="89.0" height="86.19999999999993"/></clipPath>
<radialGradient id="g04_0" gradientUnits="userSpaceOnUse" cx="444" cy="752" r="18" gradientTransform="translate(444 752) scale(1 0.6) translate(-444 -752)"><stop offset="0" stop-color="#fff" stop-opacity="1"/><stop offset="0.35" stop-color="#f0f0f0" stop-opacity="0.950"/><stop offset="0.7" stop-color="#c8c8c8" stop-opacity="0.600"/><stop offset="1" stop-color="#999" stop-opacity="0"/></radialGradient>
<clipPath id="bc04"><path d="M430.0 736.9C430.8 734.0 434.4 736.5 436.2 736.2C438.0 735.9 441.8 735.0 443.8 734.6C445.8 734.2 449.8 733.4 451.5 733.1C453.2 732.8 455.3 732.5 456.2 732.3C457.1 732.1 457.9 731.3 458.5 731.3C459.1 731.3 460.3 731.9 460.8 732.3C461.3 732.7 461.5 733.9 462.3 734.2C463.1 734.5 465.8 734.3 466.9 734.2C468.0 734.1 469.9 733.2 470.8 733.3C471.7 733.4 473.2 734.1 473.3 734.6C473.4 735.1 472.2 736.3 471.5 736.9C470.8 737.5 468.6 738.7 467.7 739.2C466.8 739.7 464.8 740.2 464.6 740.8C464.4 741.4 465.9 742.9 466.2 743.8C466.5 744.7 467.1 746.8 466.9 747.7C466.7 748.6 465.1 749.9 464.6 750.8C464.1 751.7 463.3 753.6 463.1 754.6C462.9 755.6 467.5 757.5 463.1 758.0C458.7 758.5 434.4 760.8 430.0 758.0C425.6 755.2 429.2 739.8 430.0 736.9Z"/></clipPath>
<clipPath id="cp10"><rect x="56.1" y="761.2" width="89.1" height="86.0"/></clipPath>
<radialGradient id="g10_0" gradientUnits="userSpaceOnUse" cx="86" cy="838" r="46" gradientTransform="translate(86 838) scale(1 0.5) translate(-86 -838)"><stop offset="0" stop-color="#fff" stop-opacity="1"/><stop offset="0.35" stop-color="#f0f0f0" stop-opacity="0.950"/><stop offset="0.7" stop-color="#c8c8c8" stop-opacity="0.600"/><stop offset="1" stop-color="#999" stop-opacity="0"/></radialGradient>
<radialGradient id="g10_1" gradientUnits="userSpaceOnUse" cx="126" cy="808" r="10" gradientTransform="translate(126 808) scale(1 1.0) translate(-126 -808)"><stop offset="0" stop-color="#fff" stop-opacity="0.55"/><stop offset="0.35" stop-color="#f0f0f0" stop-opacity="0.522"/><stop offset="0.7" stop-color="#c8c8c8" stop-opacity="0.330"/><stop offset="1" stop-color="#999" stop-opacity="0"/></radialGradient>
<radialGradient id="g10_2" gradientUnits="userSpaceOnUse" cx="104" cy="826" r="12" gradientTransform="translate(104 826) scale(1 0.6) translate(-104 -826)"><stop offset="0" stop-color="#fff" stop-opacity="0.6"/><stop offset="0.35" stop-color="#f0f0f0" stop-opacity="0.570"/><stop offset="0.7" stop-color="#c8c8c8" stop-opacity="0.360"/><stop offset="1" stop-color="#999" stop-opacity="0"/></radialGradient>
<clipPath id="bc10"><path d="M56.0 828.3C56.8 825.5 60.1 827.2 62.0 826.8C63.9 826.4 67.6 825.7 70.0 825.3C72.4 824.9 77.9 824.1 80.0 823.7C82.1 823.3 84.9 822.1 86.0 822.0C87.1 821.9 87.7 822.7 88.5 822.6C89.3 822.5 91.1 821.9 92.0 821.6C92.9 821.3 94.8 820.7 95.5 820.0C96.2 819.3 96.8 816.5 97.2 816.3C97.6 816.1 98.2 818.1 98.8 818.5C99.4 818.9 100.7 819.0 101.5 819.2C102.3 819.4 103.8 820.2 104.5 820.0C105.2 819.8 106.3 818.6 107.0 818.0C107.7 817.4 109.0 816.2 109.5 815.5C110.0 814.8 110.5 813.4 111.0 813.0C111.5 812.6 112.9 813.1 113.5 812.8C114.1 812.5 114.9 811.8 115.5 811.0C116.1 810.2 117.2 807.6 118.0 806.5C118.8 805.4 120.4 803.3 121.5 802.5C122.6 801.7 124.8 800.5 126.0 800.2C127.2 799.9 129.5 800.1 130.5 800.5C131.5 800.9 133.1 802.5 133.5 803.5C133.9 804.5 133.9 806.7 133.6 808.0C133.3 809.3 132.1 811.7 131.5 813.0C130.9 814.3 129.7 816.7 129.0 818.0C128.3 819.3 126.8 821.7 126.0 823.0C125.2 824.3 123.8 826.4 123.0 827.5C122.2 828.6 120.7 830.1 120.0 831.0C119.3 831.9 118.0 833.6 117.5 834.5C117.0 835.4 116.5 837.0 116.5 838.0C116.5 839.0 117.4 840.7 117.5 842.0C117.6 843.3 125.2 847.2 117.0 848.0C108.8 848.8 64.1 850.6 56.0 848.0C47.9 845.4 55.2 831.1 56.0 828.3Z"/></clipPath>
<clipPath id="cp11"><rect x="149.4" y="761.2" width="89.5" height="86.0"/></clipPath>
<radialGradient id="g11_0" gradientUnits="userSpaceOnUse" cx="166" cy="843" r="26" gradientTransform="translate(166 843) scale(1 0.6) translate(-166 -843)"><stop offset="0" stop-color="#fff" stop-opacity="1"/><stop offset="0.35" stop-color="#f0f0f0" stop-opacity="0.950"/><stop offset="0.7" stop-color="#c8c8c8" stop-opacity="0.600"/><stop offset="1" stop-color="#999" stop-opacity="0"/></radialGradient>
<radialGradient id="g11_1" gradientUnits="userSpaceOnUse" cx="215" cy="808" r="6" gradientTransform="translate(215 808) scale(1 0.8) translate(-215 -808)"><stop offset="0" stop-color="#fff" stop-opacity="0.3"/><stop offset="0.35" stop-color="#f0f0f0" stop-opacity="0.285"/><stop offset="0.7" stop-color="#c8c8c8" stop-opacity="0.180"/><stop offset="1" stop-color="#999" stop-opacity="0"/></radialGradient>
<clipPath id="bc11"><path d="M149.8 826.9C150.7 824.0 154.8 826.4 156.7 826.2C158.6 826.0 162.3 825.3 164.4 825.1C166.5 824.9 170.2 824.6 172.1 824.6C174.0 824.6 177.5 825.4 179.0 825.4C180.5 825.4 182.6 825.0 183.6 824.6C184.6 824.2 186.1 822.9 186.7 822.3C187.3 821.7 187.7 820.4 188.2 820.0C188.7 819.6 189.8 819.3 190.5 819.2C191.2 819.1 192.8 819.1 193.6 818.9C194.4 818.7 196.1 817.8 196.7 817.4C197.3 817.0 197.7 816.1 198.2 816.0C198.7 815.9 199.9 816.7 200.5 816.5C201.1 816.3 202.1 814.9 202.8 814.6C203.5 814.3 205.1 814.5 205.9 814.3C206.7 814.1 208.3 813.6 209.0 813.1C209.7 812.6 210.8 811.4 211.3 810.8C211.8 810.2 212.3 809.2 212.8 808.5C213.3 807.8 214.5 806.1 215.2 805.4C215.9 804.7 217.4 803.4 218.2 803.3C219.0 803.2 220.8 803.9 221.3 804.4C221.8 804.9 222.5 806.3 222.3 806.9C222.1 807.5 220.4 808.6 219.8 809.2C219.2 809.8 218.0 810.8 217.5 811.5C217.0 812.2 216.3 813.8 215.9 814.6C215.5 815.4 214.9 817.1 214.4 817.7C213.9 818.3 212.6 819.5 212.1 819.4C211.6 819.3 211.0 817.3 210.5 816.9C210.0 816.5 208.9 816.1 208.2 816.2C207.5 816.3 205.9 817.2 205.2 817.7C204.5 818.2 203.2 819.3 202.8 820.0C202.4 820.7 202.0 822.3 202.1 823.1C202.2 823.9 203.8 825.3 203.8 826.2C203.8 827.1 202.6 829.1 202.1 830.0C201.6 830.9 200.3 832.3 199.8 833.1C199.3 833.9 198.8 835.5 198.2 836.2C197.6 836.9 196.0 837.9 195.2 838.5C194.4 839.1 192.8 840.1 192.1 840.8C191.4 841.5 190.3 842.8 189.8 843.8C189.3 844.8 193.5 847.4 188.2 848.0C182.9 848.6 154.9 850.8 149.8 848.0C144.7 845.2 148.9 829.8 149.8 826.9Z"/></clipPath>
<clipPath id="cp12"><rect x="243.3" y="761.2" width="89.0" height="86.0"/></clipPath>
<radialGradient id="g12_0" gradientUnits="userSpaceOnUse" cx="258" cy="843" r="20" gradientTransform="translate(258 843) scale(1 0.6) translate(-258 -843)"><stop offset="0" stop-color="#fff" stop-opacity="1"/><stop offset="0.35" stop-color="#f0f0f0" stop-opacity="0.950"/><stop offset="0.7" stop-color="#c8c8c8" stop-opacity="0.600"/><stop offset="1" stop-color="#999" stop-opacity="0"/></radialGradient>
<clipPath id="bc12"><path d="M243.0 827.7C243.8 824.8 247.4 826.9 249.2 826.6C251.0 826.3 255.0 825.5 256.8 825.1C258.6 824.7 261.7 824.2 263.0 823.8C264.3 823.4 266.0 822.5 266.8 822.0C267.6 821.5 268.7 820.4 269.2 820.3C269.7 820.2 270.4 821.0 270.7 821.5C271.0 822.0 271.1 824.0 271.5 824.2C271.9 824.4 273.3 823.7 273.8 823.1C274.3 822.5 274.9 820.6 275.3 820.0C275.7 819.4 276.4 818.2 276.8 818.3C277.2 818.4 277.8 820.2 278.4 820.8C279.0 821.4 280.7 822.3 281.5 823.1C282.3 823.9 283.7 825.9 284.5 826.9C285.3 827.9 287.1 830.0 287.6 830.8C288.1 831.6 289.0 832.6 288.6 833.1C288.2 833.6 285.6 834.2 284.5 834.6C283.4 835.0 281.4 835.6 280.7 836.2C280.0 836.8 279.6 838.3 279.2 839.2C278.8 840.1 277.8 841.9 277.6 843.1C277.4 844.3 282.2 847.3 277.6 848.0C273.0 848.7 247.6 850.7 243.0 848.0C238.4 845.3 242.2 830.6 243.0 827.7Z"/></clipPath>
<clipPath id="cp13"><rect x="336.4" y="761.2" width="89.10000000000002" height="86.0"/></clipPath>
<radialGradient id="g13_0" gradientUnits="userSpaceOnUse" cx="350" cy="843" r="18" gradientTransform="translate(350 843) scale(1 0.6) translate(-350 -843)"><stop offset="0" stop-color="#fff" stop-opacity="1"/><stop offset="0.35" stop-color="#f0f0f0" stop-opacity="0.950"/><stop offset="0.7" stop-color="#c8c8c8" stop-opacity="0.600"/><stop offset="1" stop-color="#999" stop-opacity="0"/></radialGradient>
<clipPath id="bc13"><path d="M337.0 826.9C337.8 824.0 341.4 826.4 343.2 826.2C345.0 826.0 348.8 825.4 350.8 825.1C352.8 824.8 356.6 824.3 358.5 824.2C360.4 824.1 363.6 824.3 364.7 824.2C365.8 824.1 366.6 823.5 367.0 823.1C367.4 822.7 367.4 821.9 367.8 821.5C368.2 821.1 369.4 820.4 370.1 820.3C370.8 820.2 373.3 820.7 373.4 821.1C373.5 821.5 371.2 822.5 370.8 823.1C370.4 823.7 369.9 824.9 370.1 825.7C370.3 826.5 371.6 828.5 372.4 829.2C373.2 829.9 375.5 830.4 376.2 830.8C376.9 831.2 378.1 831.7 378.0 832.3C377.9 832.9 376.2 834.8 375.5 835.4C374.8 836.0 372.7 836.4 372.4 836.9C372.1 837.4 372.9 838.7 373.2 839.2C373.5 839.7 375.2 840.5 374.9 840.8C374.6 841.1 371.7 841.1 370.8 841.5C369.9 841.9 368.9 842.9 368.5 843.8C368.1 844.7 372.0 847.4 367.8 848.0C363.6 848.6 341.1 850.8 337.0 848.0C332.9 845.2 336.2 829.8 337.0 826.9Z"/></clipPath>
<clipPath id="cp14"><rect x="429.4" y="761.2" width="89.0" height="86.0"/></clipPath>
<radialGradient id="g14_0" gradientUnits="userSpaceOnUse" cx="444" cy="843" r="18" gradientTransform="translate(444 843) scale(1 0.6) translate(-444 -843)"><stop offset="0" stop-color="#fff" stop-opacity="1"/><stop offset="0.35" stop-color="#f0f0f0" stop-opacity="0.950"/><stop offset="0.7" stop-color="#c8c8c8" stop-opacity="0.600"/><stop offset="1" stop-color="#999" stop-opacity="0"/></radialGradient>
<clipPath id="bc14"><path d="M430.0 827.5C430.8 824.6 434.4 827.1 436.2 826.8C438.0 826.5 441.8 825.6 443.8 825.2C445.8 824.8 449.8 824.0 451.5 823.7C453.2 823.4 455.3 823.1 456.2 822.9C457.1 822.7 457.9 821.9 458.5 821.9C459.1 821.9 460.3 822.5 460.8 822.9C461.3 823.3 461.5 824.5 462.3 824.8C463.1 825.1 465.8 824.9 466.9 824.8C468.0 824.7 469.9 823.8 470.8 823.9C471.7 824.0 473.2 824.7 473.3 825.2C473.4 825.7 472.2 826.9 471.5 827.5C470.8 828.1 468.6 829.3 467.7 829.8C466.8 830.3 464.8 830.8 464.6 831.4C464.4 832.0 465.9 833.5 466.2 834.4C466.5 835.3 467.1 837.4 466.9 838.3C466.7 839.2 465.1 840.5 464.6 841.4C464.1 842.3 463.3 844.2 463.1 845.2C462.9 846.2 467.5 848.1 463.1 848.6C458.7 849.1 434.4 851.4 430.0 848.6C425.6 845.8 429.2 830.4 430.0 827.5Z"/></clipPath>
</defs>
<path d="M87.8 670.2V756.4M56.1 734.4H145.2" stroke="#c4c4c4" stroke-width="1"/>
<g clip-path="url(#cp00)">
<path d="M56.0 736.6C56.8 733.6 60.6 736.0 62.2 735.7C63.8 735.4 66.9 734.8 68.3 734.2C69.7 733.6 71.8 732.1 72.9 731.5C74.0 730.9 75.7 730.3 76.8 730.0C77.9 729.7 80.2 729.5 81.4 729.2C82.6 728.9 85.0 728.2 86.0 727.7C87.0 727.2 88.3 726.4 89.1 725.8C89.9 725.2 91.4 723.8 92.2 723.4C93.0 723.0 94.4 722.8 95.2 723.1C96.0 723.4 97.4 725.2 98.3 725.4C99.2 725.6 101.3 725.2 102.2 724.6C103.1 724.0 104.5 721.6 105.2 720.8C105.9 720.0 106.8 718.8 107.5 718.5C108.2 718.2 109.8 718.5 110.6 718.2C111.4 717.9 113.1 716.9 113.7 716.2C114.3 715.5 114.6 713.8 115.2 713.1C115.8 712.4 117.4 711.4 118.3 710.8C119.2 710.2 121.2 708.8 122.2 708.5C123.2 708.2 125.0 708.0 126.0 708.3C127.0 708.6 128.9 709.9 129.8 710.6C130.7 711.3 132.6 713.0 132.9 713.8C133.2 714.6 132.6 716.2 132.2 716.9C131.8 717.6 130.0 718.5 129.8 719.2C129.6 719.9 130.8 721.5 130.6 722.3C130.4 723.1 129.1 724.8 128.3 725.4C127.5 726.0 125.5 726.2 124.5 726.5C123.5 726.8 121.4 727.1 120.6 727.7C119.8 728.3 118.8 729.9 118.3 730.8C117.8 731.7 117.2 733.7 116.8 734.6C116.4 735.5 115.8 737.1 115.4 737.2C115.0 737.3 114.1 735.6 113.7 735.1C113.3 734.6 112.8 733.2 112.2 733.1C111.6 733.0 110.0 734.1 109.1 734.6C108.2 735.1 106.2 736.3 105.2 736.9C104.2 737.5 102.1 738.6 101.4 739.2C100.7 739.8 99.9 740.8 99.8 741.5C99.7 742.2 100.7 743.8 100.6 744.6C100.5 745.4 99.5 746.9 99.1 747.7C98.7 748.5 97.8 749.9 97.5 750.8C97.2 751.7 97.0 753.6 96.8 754.6C96.6 755.6 101.4 757.5 96.0 758.0C90.6 758.5 61.3 760.9 56.0 758.0C50.7 755.1 55.2 739.6 56.0 736.6Z" fill="#727272"/>
<g clip-path="url(#bc00)"><rect x="56.1" y="670.2" width="89.1" height="86.19999999999993" fill="url(#g00_0)"/><rect x="56.1" y="670.2" width="89.1" height="86.19999999999993" fill="url(#g00_1)"/><rect x="56.1" y="670.2" width="89.1" height="86.19999999999993" fill="url(#g00_2)"/><path d="M56.0 736.6C56.8 733.6 60.6 736.0 62.2 735.7C63.8 735.4 66.9 734.8 68.3 734.2C69.7 733.6 71.8 732.1 72.9 731.5C74.0 730.9 75.7 730.3 76.8 730.0C77.9 729.7 80.2 729.5 81.4 729.2C82.6 728.9 85.0 728.2 86.0 727.7C87.0 727.2 88.3 726.4 89.1 725.8C89.9 725.2 91.4 723.8 92.2 723.4C93.0 723.0 94.4 722.8 95.2 723.1C96.0 723.4 97.4 725.2 98.3 725.4C99.2 725.6 101.3 725.2 102.2 724.6C103.1 724.0 104.5 721.6 105.2 720.8C105.9 720.0 106.8 718.8 107.5 718.5C108.2 718.2 109.8 718.5 110.6 718.2C111.4 717.9 113.1 716.9 113.7 716.2C114.3 715.5 114.6 713.8 115.2 713.1C115.8 712.4 117.4 711.4 118.3 710.8C119.2 710.2 121.2 708.8 122.2 708.5C123.2 708.2 125.0 708.0 126.0 708.3C127.0 708.6 128.9 709.9 129.8 710.6C130.7 711.3 132.6 713.0 132.9 713.8C133.2 714.6 132.6 716.2 132.2 716.9C131.8 717.6 130.0 718.5 129.8 719.2C129.6 719.9 130.8 721.5 130.6 722.3C130.4 723.1 129.1 724.8 128.3 725.4C127.5 726.0 125.5 726.2 124.5 726.5C123.5 726.8 121.4 727.1 120.6 727.7C119.8 728.3 118.8 729.9 118.3 730.8C117.8 731.7 117.2 733.7 116.8 734.6C116.4 735.5 115.8 737.1 115.4 737.2C115.0 737.3 114.1 735.6 113.7 735.1C113.3 734.6 112.8 733.2 112.2 733.1C111.6 733.0 110.0 734.1 109.1 734.6C108.2 735.1 106.2 736.3 105.2 736.9C104.2 737.5 102.1 738.6 101.4 739.2C100.7 739.8 99.9 740.8 99.8 741.5C99.7 742.2 100.7 743.8 100.6 744.6C100.5 745.4 99.5 746.9 99.1 747.7C98.7 748.5 97.8 749.9 97.5 750.8C97.2 751.7 97.0 753.6 96.8 754.6C96.6 755.6 101.4 757.5 96.0 758.0C90.6 758.5 61.3 760.9 56.0 758.0C50.7 755.1 55.2 739.6 56.0 736.6Z" fill="none" stroke="#4a4a4a" stroke-width="3.0"/></g>
<ellipse cx="104.2" cy="755.8" rx="3.4" ry="2.4" transform="rotate(0 104.2 755.8)" fill="#5a5a5a"/>
</g>
<path d="M145.2 670.2V756.4" fill="none" stroke="#b4b4b4" stroke-width="1"/>
<path d="M56.1 670.2V756.4" fill="none" stroke="#777" stroke-width="1.4"/>
<path d="M54.300000000000004 748.9H56.1M54.300000000000004 741.4H56.1M54.300000000000004 733.9H56.1M54.300000000000004 726.4H56.1M54.300000000000004 718.9H56.1M54.300000000000004 711.4H56.1M54.300000000000004 703.9H56.1M54.300000000000004 696.4H56.1M54.300000000000004 688.9H56.1M54.300000000000004 681.4H56.1M54.300000000000004 673.9H56.1M63.8 756.4V758.1999999999999M71.6 756.4V758.1999999999999M79.3 756.4V758.1999999999999M87.1 756.4V758.1999999999999M94.8 756.4V758.1999999999999M102.6 756.4V758.1999999999999M110.3 756.4V758.1999999999999M118.1 756.4V758.1999999999999M125.8 756.4V758.1999999999999M133.6 756.4V758.1999999999999M141.3 756.4V758.1999999999999" stroke="#9a9a9a" stroke-width="0.8"/>
<text transform="translate(140.2,685.2) scale(1,1.12)" font-size="15.2" text-anchor="end" font-weight="bold" stroke="#000" stroke-width="0.3" >7.1</text>
<text transform="translate(57.7,751.1999999999999) scale(1,1.12)" font-size="15.2" text-anchor="start" font-weight="bold" stroke="#000" stroke-width="0.3" >86.9</text>
<path d="M181.1 670.2V756.4M149.4 734.4H238.9" stroke="#c4c4c4" stroke-width="1"/>
<g clip-path="url(#cp01)">
<path d="M149.8 737.7C150.7 734.8 154.8 736.9 156.7 736.6C158.6 736.3 162.6 735.6 164.4 735.1C166.2 734.6 169.2 733.6 170.5 733.1C171.8 732.6 173.3 731.9 174.4 731.5C175.5 731.1 178.1 730.5 179.0 730.0C179.9 729.5 180.6 728.1 181.3 727.4C182.0 726.7 183.6 725.1 184.4 724.6C185.2 724.1 186.5 723.4 187.2 723.6C187.9 723.8 189.3 725.1 189.8 725.8C190.3 726.5 190.9 727.8 191.3 728.5C191.7 729.2 192.4 730.8 192.8 730.8C193.2 730.8 193.9 729.3 194.4 728.5C194.9 727.7 196.2 725.4 196.7 724.6C197.2 723.8 197.6 722.7 198.2 722.3C198.8 721.9 200.6 721.7 201.3 721.5C202.0 721.3 202.9 720.8 203.6 720.8C204.3 720.8 206.0 721.7 206.7 721.5C207.4 721.3 208.5 719.8 209.0 719.2C209.5 718.6 209.9 717.4 210.5 716.9C211.1 716.4 213.0 715.9 213.6 715.4C214.2 714.9 214.6 713.7 215.2 713.1C215.8 712.5 217.4 710.9 218.2 710.6C219.0 710.3 220.8 710.5 221.3 710.9C221.8 711.3 222.4 713.0 222.3 713.8C222.2 714.6 220.8 716.1 220.5 716.9C220.2 717.7 220.3 719.4 219.8 720.0C219.3 720.6 217.3 720.9 216.7 721.5C216.1 722.1 215.6 723.8 215.2 724.6C214.8 725.4 214.2 727.0 213.6 727.7C213.0 728.4 211.2 729.6 210.5 730.0C209.8 730.4 208.7 731.1 208.2 730.8C207.7 730.5 207.2 728.4 206.7 727.7C206.2 727.0 205.1 725.8 204.4 725.4C203.7 725.0 202.1 724.4 201.3 724.6C200.5 724.8 198.8 726.1 198.2 726.9C197.6 727.7 196.6 729.9 196.7 730.8C196.8 731.7 198.8 733.0 199.0 733.8C199.2 734.6 198.7 736.3 198.2 736.9C197.7 737.5 195.4 738.0 195.2 738.5C195.0 739.0 196.1 740.2 196.7 740.8C197.3 741.4 199.3 742.5 199.8 743.1C200.3 743.7 201.1 745.0 200.7 745.4C200.3 745.8 197.8 746.0 196.7 746.2C195.6 746.4 193.1 746.5 192.1 746.9C191.1 747.3 189.8 748.5 189.0 749.2C188.2 749.9 186.4 751.1 185.9 752.3C185.4 753.5 190.0 757.2 185.2 758.0C180.4 758.8 154.5 760.7 149.8 758.0C145.1 755.3 148.9 740.6 149.8 737.7Z" fill="#727272"/>
<g clip-path="url(#bc01)"><rect x="149.4" y="670.2" width="89.5" height="86.19999999999993" fill="url(#g01_0)"/><rect x="149.4" y="670.2" width="89.5" height="86.19999999999993" fill="url(#g01_1)"/><path d="M149.8 737.7C150.7 734.8 154.8 736.9 156.7 736.6C158.6 736.3 162.6 735.6 164.4 735.1C166.2 734.6 169.2 733.6 170.5 733.1C171.8 732.6 173.3 731.9 174.4 731.5C175.5 731.1 178.1 730.5 179.0 730.0C179.9 729.5 180.6 728.1 181.3 727.4C182.0 726.7 183.6 725.1 184.4 724.6C185.2 724.1 186.5 723.4 187.2 723.6C187.9 723.8 189.3 725.1 189.8 725.8C190.3 726.5 190.9 727.8 191.3 728.5C191.7 729.2 192.4 730.8 192.8 730.8C193.2 730.8 193.9 729.3 194.4 728.5C194.9 727.7 196.2 725.4 196.7 724.6C197.2 723.8 197.6 722.7 198.2 722.3C198.8 721.9 200.6 721.7 201.3 721.5C202.0 721.3 202.9 720.8 203.6 720.8C204.3 720.8 206.0 721.7 206.7 721.5C207.4 721.3 208.5 719.8 209.0 719.2C209.5 718.6 209.9 717.4 210.5 716.9C211.1 716.4 213.0 715.9 213.6 715.4C214.2 714.9 214.6 713.7 215.2 713.1C215.8 712.5 217.4 710.9 218.2 710.6C219.0 710.3 220.8 710.5 221.3 710.9C221.8 711.3 222.4 713.0 222.3 713.8C222.2 714.6 220.8 716.1 220.5 716.9C220.2 717.7 220.3 719.4 219.8 720.0C219.3 720.6 217.3 720.9 216.7 721.5C216.1 722.1 215.6 723.8 215.2 724.6C214.8 725.4 214.2 727.0 213.6 727.7C213.0 728.4 211.2 729.6 210.5 730.0C209.8 730.4 208.7 731.1 208.2 730.8C207.7 730.5 207.2 728.4 206.7 727.7C206.2 727.0 205.1 725.8 204.4 725.4C203.7 725.0 202.1 724.4 201.3 724.6C200.5 724.8 198.8 726.1 198.2 726.9C197.6 727.7 196.6 729.9 196.7 730.8C196.8 731.7 198.8 733.0 199.0 733.8C199.2 734.6 198.7 736.3 198.2 736.9C197.7 737.5 195.4 738.0 195.2 738.5C195.0 739.0 196.1 740.2 196.7 740.8C197.3 741.4 199.3 742.5 199.8 743.1C200.3 743.7 201.1 745.0 200.7 745.4C200.3 745.8 197.8 746.0 196.7 746.2C195.6 746.4 193.1 746.5 192.1 746.9C191.1 747.3 189.8 748.5 189.0 749.2C188.2 749.9 186.4 751.1 185.9 752.3C185.4 753.5 190.0 757.2 185.2 758.0C180.4 758.8 154.5 760.7 149.8 758.0C145.1 755.3 148.9 740.6 149.8 737.7Z" fill="none" stroke="#4a4a4a" stroke-width="3.0"/></g>
<circle cx="192.1" cy="734.6" r="1.8" fill="#fff"/>
</g>
<path d="M238.9 670.2V756.4" fill="none" stroke="#b4b4b4" stroke-width="1"/>
<path d="M149.4 670.2V756.4" fill="none" stroke="#777" stroke-width="1.4"/>
<path d="M147.6 748.9H149.4M147.6 741.4H149.4M147.6 733.9H149.4M147.6 726.4H149.4M147.6 718.9H149.4M147.6 711.4H149.4M147.6 703.9H149.4M147.6 696.4H149.4M147.6 688.9H149.4M147.6 681.4H149.4M147.6 673.9H149.4M157.2 756.4V758.1999999999999M165.0 756.4V758.1999999999999M172.7 756.4V758.1999999999999M180.5 756.4V758.1999999999999M188.3 756.4V758.1999999999999M196.1 756.4V758.1999999999999M203.9 756.4V758.1999999999999M211.7 756.4V758.1999999999999M219.4 756.4V758.1999999999999M227.2 756.4V758.1999999999999M235.0 756.4V758.1999999999999" stroke="#9a9a9a" stroke-width="0.8"/>
<text transform="translate(236.3,685.2) scale(1,1.12)" font-size="15.2" text-anchor="end" font-weight="bold" stroke="#000" stroke-width="0.3" >3.6</text>
<text transform="translate(151.0,751.1999999999999) scale(1,1.12)" font-size="15.2" text-anchor="start" font-weight="bold" stroke="#000" stroke-width="0.3" >93.0</text>
<path d="M275.0 670.2V756.4M243.3 734.4H332.3" stroke="#c4c4c4" stroke-width="1"/>
<g clip-path="url(#cp02)">
<path d="M243.0 737.7C243.8 734.8 247.6 736.6 249.2 736.2C250.8 735.8 253.9 735.0 255.3 734.6C256.7 734.2 258.7 733.4 259.9 733.1C261.1 732.8 263.2 732.4 264.5 732.3C265.8 732.2 268.7 732.6 269.9 732.6C271.1 732.6 273.0 732.6 273.8 732.3C274.6 732.0 275.4 730.9 276.1 730.5C276.8 730.1 278.5 729.6 279.2 729.2C279.9 728.8 280.6 727.9 281.2 727.4C281.8 726.9 283.2 725.8 283.8 725.2C284.4 724.6 285.2 723.2 285.8 722.6C286.4 722.0 287.6 721.1 288.4 721.0C289.2 720.9 290.8 721.2 291.5 721.6C292.2 722.0 293.5 723.3 293.6 724.2C293.7 725.1 293.1 727.4 292.4 728.2C291.7 729.0 289.3 730.0 288.2 730.4C287.1 730.8 285.2 731.1 284.2 731.4C283.2 731.7 281.2 732.1 280.4 732.4C279.6 732.7 278.4 733.1 278.2 733.6C278.0 734.1 279.0 735.3 279.2 736.2C279.4 737.1 279.4 739.0 279.9 740.0C280.4 741.0 281.8 743.2 283.0 743.8C284.2 744.4 288.2 744.2 288.6 744.6C289.0 745.0 287.0 746.5 286.1 746.9C285.2 747.3 283.0 747.2 282.2 747.7C281.4 748.2 280.3 749.9 279.9 750.8C279.5 751.7 279.2 753.6 279.2 754.6C279.2 755.6 284.7 757.5 279.9 758.0C275.1 758.5 247.9 760.7 243.0 758.0C238.1 755.3 242.2 740.6 243.0 737.7Z" fill="#727272"/>
<path d="M296.4 722.4C296.7 721.9 298.2 720.9 298.8 720.8C299.4 720.7 300.7 721.3 301.2 721.8C301.7 722.3 302.5 723.6 302.4 724.2C302.3 724.8 301.2 726.0 300.6 726.2C300.0 726.4 298.4 726.1 297.8 725.8C297.2 725.5 296.4 724.7 296.2 724.2C296.0 723.7 296.1 722.9 296.4 722.4Z" fill="#555555" stroke="#4e4e4e" stroke-width="0.6"/>
<path d="M307.6 711.6C307.8 711.1 309.1 710.6 309.6 710.6C310.1 710.6 311.2 711.3 311.4 711.8C311.6 712.3 311.0 714.0 311.2 714.6C311.4 715.2 312.6 715.8 313.2 716.2C313.8 716.6 315.2 717.1 315.4 717.6C315.6 718.1 315.1 719.3 314.6 719.6C314.1 719.9 312.3 720.0 311.6 720.2C310.9 720.4 309.8 721.0 309.4 720.8C309.0 720.6 308.8 719.2 308.8 718.6C308.8 718.0 309.7 717.0 309.6 716.4C309.5 715.8 308.5 715.0 308.2 714.4C307.9 713.8 307.4 712.1 307.6 711.6Z" fill="#555555" stroke="#4e4e4e" stroke-width="0.6"/>
<g clip-path="url(#bc02)"><rect x="243.3" y="670.2" width="89.0" height="86.19999999999993" fill="url(#g02_0)"/><path d="M243.0 737.7C243.8 734.8 247.6 736.6 249.2 736.2C250.8 735.8 253.9 735.0 255.3 734.6C256.7 734.2 258.7 733.4 259.9 733.1C261.1 732.8 263.2 732.4 264.5 732.3C265.8 732.2 268.7 732.6 269.9 732.6C271.1 732.6 273.0 732.6 273.8 732.3C274.6 732.0 275.4 730.9 276.1 730.5C276.8 730.1 278.5 729.6 279.2 729.2C279.9 728.8 280.6 727.9 281.2 727.4C281.8 726.9 283.2 725.8 283.8 725.2C284.4 724.6 285.2 723.2 285.8 722.6C286.4 722.0 287.6 721.1 288.4 721.0C289.2 720.9 290.8 721.2 291.5 721.6C292.2 722.0 293.5 723.3 293.6 724.2C293.7 725.1 293.1 727.4 292.4 728.2C291.7 729.0 289.3 730.0 288.2 730.4C287.1 730.8 285.2 731.1 284.2 731.4C283.2 731.7 281.2 732.1 280.4 732.4C279.6 732.7 278.4 733.1 278.2 733.6C278.0 734.1 279.0 735.3 279.2 736.2C279.4 737.1 279.4 739.0 279.9 740.0C280.4 741.0 281.8 743.2 283.0 743.8C284.2 744.4 288.2 744.2 288.6 744.6C289.0 745.0 287.0 746.5 286.1 746.9C285.2 747.3 283.0 747.2 282.2 747.7C281.4 748.2 280.3 749.9 279.9 750.8C279.5 751.7 279.2 753.6 279.2 754.6C279.2 755.6 284.7 757.5 279.9 758.0C275.1 758.5 247.9 760.7 243.0 758.0C238.1 755.3 242.2 740.6 243.0 737.7Z" fill="none" stroke="#4a4a4a" stroke-width="3.0"/></g>
</g>
<path d="M332.3 670.2V756.4" fill="none" stroke="#b4b4b4" stroke-width="1"/>
<path d="M243.3 670.2V756.4" fill="none" stroke="#777" stroke-width="1.4"/>
<path d="M241.5 748.9H243.3M241.5 741.4H243.3M241.5 733.9H243.3M241.5 726.4H243.3M241.5 718.9H243.3M241.5 711.4H243.3M241.5 703.9H243.3M241.5 696.4H243.3M241.5 688.9H243.3M241.5 681.4H243.3M241.5 673.9H243.3M251.0 756.4V758.1999999999999M258.8 756.4V758.1999999999999M266.5 756.4V758.1999999999999M274.3 756.4V758.1999999999999M282.0 756.4V758.1999999999999M289.7 756.4V758.1999999999999M297.5 756.4V758.1999999999999M305.2 756.4V758.1999999999999M313.0 756.4V758.1999999999999M320.7 756.4V758.1999999999999M328.4 756.4V758.1999999999999" stroke="#9a9a9a" stroke-width="0.8"/>
<text transform="translate(329.0,685.2) scale(1,1.12)" font-size="15.2" text-anchor="end" font-weight="bold" stroke="#000" stroke-width="0.3" >2.4</text>
<text transform="translate(244.1,751.1999999999999) scale(1,1.12)" font-size="15.2" text-anchor="start" font-weight="bold" stroke="#000" stroke-width="0.3" >95.5</text>
<path d="M368.09999999999997 670.2V756.4M336.4 734.4H425.5" stroke="#c4c4c4" stroke-width="1"/>
<g clip-path="url(#cp03)">
<path d="M337.0 737.7C337.8 734.8 341.4 737.0 343.2 736.6C345.0 736.2 349.0 735.1 350.8 734.6C352.6 734.1 355.5 733.4 357.0 733.1C358.5 732.8 361.3 732.3 362.4 732.4C363.5 732.5 364.8 733.3 365.5 733.8C366.2 734.3 367.2 735.4 367.8 736.2C368.4 737.0 369.9 738.9 370.1 740.0C370.3 741.1 369.5 743.4 369.3 744.6C369.1 745.8 368.7 748.0 368.5 749.2C368.3 750.4 367.8 752.6 367.8 753.8C367.8 755.0 372.6 757.4 368.5 758.0C364.4 758.6 341.2 760.7 337.0 758.0C332.8 755.3 336.2 740.6 337.0 737.7Z" fill="#727272"/>
<g clip-path="url(#bc03)"><rect x="336.4" y="670.2" width="89.10000000000002" height="86.19999999999993" fill="url(#g03_0)"/><path d="M337.0 737.7C337.8 734.8 341.4 737.0 343.2 736.6C345.0 736.2 349.0 735.1 350.8 734.6C352.6 734.1 355.5 733.4 357.0 733.1C358.5 732.8 361.3 732.3 362.4 732.4C363.5 732.5 364.8 733.3 365.5 733.8C366.2 734.3 367.2 735.4 367.8 736.2C368.4 737.0 369.9 738.9 370.1 740.0C370.3 741.1 369.5 743.4 369.3 744.6C369.1 745.8 368.7 748.0 368.5 749.2C368.3 750.4 367.8 752.6 367.8 753.8C367.8 755.0 372.6 757.4 368.5 758.0C364.4 758.6 341.2 760.7 337.0 758.0C332.8 755.3 336.2 740.6 337.0 737.7Z" fill="none" stroke="#4a4a4a" stroke-width="3.0"/></g>
<ellipse cx="373.9" cy="735.7" rx="4.4" ry="1.8" transform="rotate(60 373.9 735.7)" fill="#5a5a5a"/>
<ellipse cx="397.8" cy="722.8" rx="2.3" ry="3.0" transform="rotate(0 397.8 722.8)" fill="#5a5a5a"/>
<ellipse cx="406.5" cy="714.6" rx="2.5" ry="1.2" transform="rotate(-30 406.5 714.6)" fill="#5a5a5a"/>
<circle cx="377.8" cy="744.9" r="1.2" fill="#444"/>
<circle cx="400.1" cy="715.8" r="1.0" fill="#444"/>
<circle cx="403.2" cy="729.5" r="0.8" fill="#444"/>
</g>
<path d="M425.5 670.2V756.4" fill="none" stroke="#b4b4b4" stroke-width="1"/>
<path d="M336.4 670.2V756.4" fill="none" stroke="#777" stroke-width="1.4"/>
<path d="M334.59999999999997 748.9H336.4M334.59999999999997 741.4H336.4M334.59999999999997 733.9H336.4M334.59999999999997 726.4H336.4M334.59999999999997 718.9H336.4M334.59999999999997 711.4H336.4M334.59999999999997 703.9H336.4M334.59999999999997 696.4H336.4M334.59999999999997 688.9H336.4M334.59999999999997 681.4H336.4M334.59999999999997 673.9H336.4M344.1 756.4V758.1999999999999M351.9 756.4V758.1999999999999M359.6 756.4V758.1999999999999M367.4 756.4V758.1999999999999M375.1 756.4V758.1999999999999M382.9 756.4V758.1999999999999M390.6 756.4V758.1999999999999M398.4 756.4V758.1999999999999M406.1 756.4V758.1999999999999M413.9 756.4V758.1999999999999M421.6 756.4V758.1999999999999" stroke="#9a9a9a" stroke-width="0.8"/>
<text transform="translate(422.4,685.2) scale(1,1.12)" font-size="15.2" text-anchor="end" font-weight="bold" stroke="#000" stroke-width="0.3" >1.5</text>
<text transform="translate(337.6,751.1999999999999) scale(1,1.12)" font-size="15.2" text-anchor="start" font-weight="bold" stroke="#000" stroke-width="0.3" >97.0</text>
<path d="M461.09999999999997 670.2V756.4M429.4 734.4H518.4" stroke="#c4c4c4" stroke-width="1"/>
<g clip-path="url(#cp04)">
<path d="M430.0 736.9C430.8 734.0 434.4 736.5 436.2 736.2C438.0 735.9 441.8 735.0 443.8 734.6C445.8 734.2 449.8 733.4 451.5 733.1C453.2 732.8 455.3 732.5 456.2 732.3C457.1 732.1 457.9 731.3 458.5 731.3C459.1 731.3 460.3 731.9 460.8 732.3C461.3 732.7 461.5 733.9 462.3 734.2C463.1 734.5 465.8 734.3 466.9 734.2C468.0 734.1 469.9 733.2 470.8 733.3C471.7 733.4 473.2 734.1 473.3 734.6C473.4 735.1 472.2 736.3 471.5 736.9C470.8 737.5 468.6 738.7 467.7 739.2C466.8 739.7 464.8 740.2 464.6 740.8C464.4 741.4 465.9 742.9 466.2 743.8C466.5 744.7 467.1 746.8 466.9 747.7C466.7 748.6 465.1 749.9 464.6 750.8C464.1 751.7 463.3 753.6 463.1 754.6C462.9 755.6 467.5 757.5 463.1 758.0C458.7 758.5 434.4 760.8 430.0 758.0C425.6 755.2 429.2 739.8 430.0 736.9Z" fill="#727272"/>
<g clip-path="url(#bc04)"><rect x="429.4" y="670.2" width="89.0" height="86.19999999999993" fill="url(#g04_0)"/><path d="M430.0 736.9C430.8 734.0 434.4 736.5 436.2 736.2C438.0 735.9 441.8 735.0 443.8 734.6C445.8 734.2 449.8 733.4 451.5 733.1C453.2 732.8 455.3 732.5 456.2 732.3C457.1 732.1 457.9 731.3 458.5 731.3C459.1 731.3 460.3 731.9 460.8 732.3C461.3 732.7 461.5 733.9 462.3 734.2C463.1 734.5 465.8 734.3 466.9 734.2C468.0 734.1 469.9 733.2 470.8 733.3C471.7 733.4 473.2 734.1 473.3 734.6C473.4 735.1 472.2 736.3 471.5 736.9C470.8 737.5 468.6 738.7 467.7 739.2C466.8 739.7 464.8 740.2 464.6 740.8C464.4 741.4 465.9 742.9 466.2 743.8C466.5 744.7 467.1 746.8 466.9 747.7C466.7 748.6 465.1 749.9 464.6 750.8C464.1 751.7 463.3 753.6 463.1 754.6C462.9 755.6 467.5 757.5 463.1 758.0C458.7 758.5 434.4 760.8 430.0 758.0C425.6 755.2 429.2 739.8 430.0 736.9Z" fill="none" stroke="#4a4a4a" stroke-width="3.0"/></g>
<circle cx="474.6" cy="731.2" r="1.3" fill="#444"/>
<circle cx="469.2" cy="755.9" r="0.9" fill="#444"/>
<circle cx="481.5" cy="756.4" r="0.7" fill="#444"/>
</g>
<path d="M518.4 670.2V756.4" fill="none" stroke="#b4b4b4" stroke-width="1"/>
<path d="M429.4 670.2V756.4" fill="none" stroke="#777" stroke-width="1.4"/>
<path d="M427.59999999999997 748.9H429.4M427.59999999999997 741.4H429.4M427.59999999999997 733.9H429.4M427.59999999999997 726.4H429.4M427.59999999999997 718.9H429.4M427.59999999999997 711.4H429.4M427.59999999999997 703.9H429.4M427.59999999999997 696.4H429.4M427.59999999999997 688.9H429.4M427.59999999999997 681.4H429.4M427.59999999999997 673.9H429.4M437.1 756.4V758.1999999999999M444.9 756.4V758.1999999999999M452.6 756.4V758.1999999999999M460.4 756.4V758.1999999999999M468.1 756.4V758.1999999999999M475.8 756.4V758.1999999999999M483.6 756.4V758.1999999999999M491.3 756.4V758.1999999999999M499.1 756.4V758.1999999999999M506.8 756.4V758.1999999999999M514.5 756.4V758.1999999999999" stroke="#9a9a9a" stroke-width="0.8"/>
<text transform="translate(515.8,685.2) scale(1,1.12)" font-size="15.2" text-anchor="end" font-weight="bold" stroke="#000" stroke-width="0.3" >1.2</text>
<text transform="translate(431.7,751.1999999999999) scale(1,1.12)" font-size="15.2" text-anchor="start" font-weight="bold" stroke="#000" stroke-width="0.3" >96.6</text>
<path d="M87.8 761.2V847.2M56.1 824.3H145.2" stroke="#c4c4c4" stroke-width="1"/>
<g clip-path="url(#cp10)">
<path d="M56.0 828.3C56.8 825.5 60.1 827.2 62.0 826.8C63.9 826.4 67.6 825.7 70.0 825.3C72.4 824.9 77.9 824.1 80.0 823.7C82.1 823.3 84.9 822.1 86.0 822.0C87.1 821.9 87.7 822.7 88.5 822.6C89.3 822.5 91.1 821.9 92.0 821.6C92.9 821.3 94.8 820.7 95.5 820.0C96.2 819.3 96.8 816.5 97.2 816.3C97.6 816.1 98.2 818.1 98.8 818.5C99.4 818.9 100.7 819.0 101.5 819.2C102.3 819.4 103.8 820.2 104.5 820.0C105.2 819.8 106.3 818.6 107.0 818.0C107.7 817.4 109.0 816.2 109.5 815.5C110.0 814.8 110.5 813.4 111.0 813.0C111.5 812.6 112.9 813.1 113.5 812.8C114.1 812.5 114.9 811.8 115.5 811.0C116.1 810.2 117.2 807.6 118.0 806.5C118.8 805.4 120.4 803.3 121.5 802.5C122.6 801.7 124.8 800.5 126.0 800.2C127.2 799.9 129.5 800.1 130.5 800.5C131.5 800.9 133.1 802.5 133.5 803.5C133.9 804.5 133.9 806.7 133.6 808.0C133.3 809.3 132.1 811.7 131.5 813.0C130.9 814.3 129.7 816.7 129.0 818.0C128.3 819.3 126.8 821.7 126.0 823.0C125.2 824.3 123.8 826.4 123.0 827.5C122.2 828.6 120.7 830.1 120.0 831.0C119.3 831.9 118.0 833.6 117.5 834.5C117.0 835.4 116.5 837.0 116.5 838.0C116.5 839.0 117.4 840.7 117.5 842.0C117.6 843.3 125.2 847.2 117.0 848.0C108.8 848.8 64.1 850.6 56.0 848.0C47.9 845.4 55.2 831.1 56.0 828.3Z" fill="#727272"/>
<g clip-path="url(#bc10)"><rect x="56.1" y="761.2" width="89.1" height="86.0" fill="url(#g10_0)"/><rect x="56.1" y="761.2" width="89.1" height="86.0" fill="url(#g10_1)"/><rect x="56.1" y="761.2" width="89.1" height="86.0" fill="url(#g10_2)"/><path d="M56.0 828.3C56.8 825.5 60.1 827.2 62.0 826.8C63.9 826.4 67.6 825.7 70.0 825.3C72.4 824.9 77.9 824.1 80.0 823.7C82.1 823.3 84.9 822.1 86.0 822.0C87.1 821.9 87.7 822.7 88.5 822.6C89.3 822.5 91.1 821.9 92.0 821.6C92.9 821.3 94.8 820.7 95.5 820.0C96.2 819.3 96.8 816.5 97.2 816.3C97.6 816.1 98.2 818.1 98.8 818.5C99.4 818.9 100.7 819.0 101.5 819.2C102.3 819.4 103.8 820.2 104.5 820.0C105.2 819.8 106.3 818.6 107.0 818.0C107.7 817.4 109.0 816.2 109.5 815.5C110.0 814.8 110.5 813.4 111.0 813.0C111.5 812.6 112.9 813.1 113.5 812.8C114.1 812.5 114.9 811.8 115.5 811.0C116.1 810.2 117.2 807.6 118.0 806.5C118.8 805.4 120.4 803.3 121.5 802.5C122.6 801.7 124.8 800.5 126.0 800.2C127.2 799.9 129.5 800.1 130.5 800.5C131.5 800.9 133.1 802.5 133.5 803.5C133.9 804.5 133.9 806.7 133.6 808.0C133.3 809.3 132.1 811.7 131.5 813.0C130.9 814.3 129.7 816.7 129.0 818.0C128.3 819.3 126.8 821.7 126.0 823.0C125.2 824.3 123.8 826.4 123.0 827.5C122.2 828.6 120.7 830.1 120.0 831.0C119.3 831.9 118.0 833.6 117.5 834.5C117.0 835.4 116.5 837.0 116.5 838.0C116.5 839.0 117.4 840.7 117.5 842.0C117.6 843.3 125.2 847.2 117.0 848.0C108.8 848.8 64.1 850.6 56.0 848.0C47.9 845.4 55.2 831.1 56.0 828.3Z" fill="none" stroke="#4a4a4a" stroke-width="3.0"/></g>
<circle cx="108.2" cy="846.5" r="3.6" fill="#fff"/>
<rect x="110.6" y="832.9" width="7.8" height="3.5" fill="#fff" stroke="#b0b0b0" stroke-width="0.5"/>
</g>
<path d="M145.2 761.2V847.2" fill="none" stroke="#b4b4b4" stroke-width="1"/>
<path d="M56.1 761.2V847.2" fill="none" stroke="#777" stroke-width="1.4"/>
<path d="M54.300000000000004 839.7H56.1M54.300000000000004 832.2H56.1M54.300000000000004 824.8H56.1M54.300000000000004 817.3H56.1M54.300000000000004 809.8H56.1M54.300000000000004 802.3H56.1M54.300000000000004 794.9H56.1M54.300000000000004 787.4H56.1M54.300000000000004 779.9H56.1M54.300000000000004 772.4H56.1M54.300000000000004 764.9H56.1M63.8 847.2V849.0M71.6 847.2V849.0M79.3 847.2V849.0M87.1 847.2V849.0M94.8 847.2V849.0M102.6 847.2V849.0M110.3 847.2V849.0M118.1 847.2V849.0M125.8 847.2V849.0M133.6 847.2V849.0M141.3 847.2V849.0" stroke="#9a9a9a" stroke-width="0.8"/>
<text transform="translate(141.5,776.2) scale(1,1.12)" font-size="15.2" text-anchor="end" font-weight="bold" stroke="#000" stroke-width="0.3" >8.0</text>
<text transform="translate(57.7,842.0) scale(1,1.12)" font-size="15.2" text-anchor="start" font-weight="bold" stroke="#000" stroke-width="0.3" >79.5</text>
<path d="M181.1 761.2V847.2M149.4 824.3H238.9" stroke="#c4c4c4" stroke-width="1"/>
<g clip-path="url(#cp11)">
<path d="M149.8 826.9C150.7 824.0 154.8 826.4 156.7 826.2C158.6 826.0 162.3 825.3 164.4 825.1C166.5 824.9 170.2 824.6 172.1 824.6C174.0 824.6 177.5 825.4 179.0 825.4C180.5 825.4 182.6 825.0 183.6 824.6C184.6 824.2 186.1 822.9 186.7 822.3C187.3 821.7 187.7 820.4 188.2 820.0C188.7 819.6 189.8 819.3 190.5 819.2C191.2 819.1 192.8 819.1 193.6 818.9C194.4 818.7 196.1 817.8 196.7 817.4C197.3 817.0 197.7 816.1 198.2 816.0C198.7 815.9 199.9 816.7 200.5 816.5C201.1 816.3 202.1 814.9 202.8 814.6C203.5 814.3 205.1 814.5 205.9 814.3C206.7 814.1 208.3 813.6 209.0 813.1C209.7 812.6 210.8 811.4 211.3 810.8C211.8 810.2 212.3 809.2 212.8 808.5C213.3 807.8 214.5 806.1 215.2 805.4C215.9 804.7 217.4 803.4 218.2 803.3C219.0 803.2 220.8 803.9 221.3 804.4C221.8 804.9 222.5 806.3 222.3 806.9C222.1 807.5 220.4 808.6 219.8 809.2C219.2 809.8 218.0 810.8 217.5 811.5C217.0 812.2 216.3 813.8 215.9 814.6C215.5 815.4 214.9 817.1 214.4 817.7C213.9 818.3 212.6 819.5 212.1 819.4C211.6 819.3 211.0 817.3 210.5 816.9C210.0 816.5 208.9 816.1 208.2 816.2C207.5 816.3 205.9 817.2 205.2 817.7C204.5 818.2 203.2 819.3 202.8 820.0C202.4 820.7 202.0 822.3 202.1 823.1C202.2 823.9 203.8 825.3 203.8 826.2C203.8 827.1 202.6 829.1 202.1 830.0C201.6 830.9 200.3 832.3 199.8 833.1C199.3 833.9 198.8 835.5 198.2 836.2C197.6 836.9 196.0 837.9 195.2 838.5C194.4 839.1 192.8 840.1 192.1 840.8C191.4 841.5 190.3 842.8 189.8 843.8C189.3 844.8 193.5 847.4 188.2 848.0C182.9 848.6 154.9 850.8 149.8 848.0C144.7 845.2 148.9 829.8 149.8 826.9Z" fill="#727272"/>
<g clip-path="url(#bc11)"><rect x="149.4" y="761.2" width="89.5" height="86.0" fill="url(#g11_0)"/><rect x="149.4" y="761.2" width="89.5" height="86.0" fill="url(#g11_1)"/><path d="M149.8 826.9C150.7 824.0 154.8 826.4 156.7 826.2C158.6 826.0 162.3 825.3 164.4 825.1C166.5 824.9 170.2 824.6 172.1 824.6C174.0 824.6 177.5 825.4 179.0 825.4C180.5 825.4 182.6 825.0 183.6 824.6C184.6 824.2 186.1 822.9 186.7 822.3C187.3 821.7 187.7 820.4 188.2 820.0C188.7 819.6 189.8 819.3 190.5 819.2C191.2 819.1 192.8 819.1 193.6 818.9C194.4 818.7 196.1 817.8 196.7 817.4C197.3 817.0 197.7 816.1 198.2 816.0C198.7 815.9 199.9 816.7 200.5 816.5C201.1 816.3 202.1 814.9 202.8 814.6C203.5 814.3 205.1 814.5 205.9 814.3C206.7 814.1 208.3 813.6 209.0 813.1C209.7 812.6 210.8 811.4 211.3 810.8C211.8 810.2 212.3 809.2 212.8 808.5C213.3 807.8 214.5 806.1 215.2 805.4C215.9 804.7 217.4 803.4 218.2 803.3C219.0 803.2 220.8 803.9 221.3 804.4C221.8 804.9 222.5 806.3 222.3 806.9C222.1 807.5 220.4 808.6 219.8 809.2C219.2 809.8 218.0 810.8 217.5 811.5C217.0 812.2 216.3 813.8 215.9 814.6C215.5 815.4 214.9 817.1 214.4 817.7C213.9 818.3 212.6 819.5 212.1 819.4C211.6 819.3 211.0 817.3 210.5 816.9C210.0 816.5 208.9 816.1 208.2 816.2C207.5 816.3 205.9 817.2 205.2 817.7C204.5 818.2 203.2 819.3 202.8 820.0C202.4 820.7 202.0 822.3 202.1 823.1C202.2 823.9 203.8 825.3 203.8 826.2C203.8 827.1 202.6 829.1 202.1 830.0C201.6 830.9 200.3 832.3 199.8 833.1C199.3 833.9 198.8 835.5 198.2 836.2C197.6 836.9 196.0 837.9 195.2 838.5C194.4 839.1 192.8 840.1 192.1 840.8C191.4 841.5 190.3 842.8 189.8 843.8C189.3 844.8 193.5 847.4 188.2 848.0C182.9 848.6 154.9 850.8 149.8 848.0C144.7 845.2 148.9 829.8 149.8 826.9Z" fill="none" stroke="#4a4a4a" stroke-width="3.0"/></g>
</g>
<path d="M238.9 761.2V847.2" fill="none" stroke="#b4b4b4" stroke-width="1"/>
<path d="M149.4 761.2V847.2" fill="none" stroke="#777" stroke-width="1.4"/>
<path d="M147.6 839.7H149.4M147.6 832.2H149.4M147.6 824.8H149.4M147.6 817.3H149.4M147.6 809.8H149.4M147.6 802.3H149.4M147.6 794.9H149.4M147.6 787.4H149.4M147.6 779.9H149.4M147.6 772.4H149.4M147.6 764.9H149.4M157.2 847.2V849.0M165.0 847.2V849.0M172.7 847.2V849.0M180.5 847.2V849.0M188.3 847.2V849.0M196.1 847.2V849.0M203.9 847.2V849.0M211.7 847.2V849.0M219.4 847.2V849.0M227.2 847.2V849.0M235.0 847.2V849.0" stroke="#9a9a9a" stroke-width="0.8"/>
<text transform="translate(234.5,776.2) scale(1,1.12)" font-size="15.2" text-anchor="end" font-weight="bold" stroke="#000" stroke-width="0.3" >3.1</text>
<text transform="translate(151.0,842.0) scale(1,1.12)" font-size="15.2" text-anchor="start" font-weight="bold" stroke="#000" stroke-width="0.3" >91.7</text>
<path d="M275.0 761.2V847.2M243.3 824.3H332.3" stroke="#c4c4c4" stroke-width="1"/>
<g clip-path="url(#cp12)">
<path d="M243.0 827.7C243.8 824.8 247.4 826.9 249.2 826.6C251.0 826.3 255.0 825.5 256.8 825.1C258.6 824.7 261.7 824.2 263.0 823.8C264.3 823.4 266.0 822.5 266.8 822.0C267.6 821.5 268.7 820.4 269.2 820.3C269.7 820.2 270.4 821.0 270.7 821.5C271.0 822.0 271.1 824.0 271.5 824.2C271.9 824.4 273.3 823.7 273.8 823.1C274.3 822.5 274.9 820.6 275.3 820.0C275.7 819.4 276.4 818.2 276.8 818.3C277.2 818.4 277.8 820.2 278.4 820.8C279.0 821.4 280.7 822.3 281.5 823.1C282.3 823.9 283.7 825.9 284.5 826.9C285.3 827.9 287.1 830.0 287.6 830.8C288.1 831.6 289.0 832.6 288.6 833.1C288.2 833.6 285.6 834.2 284.5 834.6C283.4 835.0 281.4 835.6 280.7 836.2C280.0 836.8 279.6 838.3 279.2 839.2C278.8 840.1 277.8 841.9 277.6 843.1C277.4 844.3 282.2 847.3 277.6 848.0C273.0 848.7 247.6 850.7 243.0 848.0C238.4 845.3 242.2 830.6 243.0 827.7Z" fill="#727272"/>
<g clip-path="url(#bc12)"><rect x="243.3" y="761.2" width="89.0" height="86.0" fill="url(#g12_0)"/><path d="M243.0 827.7C243.8 824.8 247.4 826.9 249.2 826.6C251.0 826.3 255.0 825.5 256.8 825.1C258.6 824.7 261.7 824.2 263.0 823.8C264.3 823.4 266.0 822.5 266.8 822.0C267.6 821.5 268.7 820.4 269.2 820.3C269.7 820.2 270.4 821.0 270.7 821.5C271.0 822.0 271.1 824.0 271.5 824.2C271.9 824.4 273.3 823.7 273.8 823.1C274.3 822.5 274.9 820.6 275.3 820.0C275.7 819.4 276.4 818.2 276.8 818.3C277.2 818.4 277.8 820.2 278.4 820.8C279.0 821.4 280.7 822.3 281.5 823.1C282.3 823.9 283.7 825.9 284.5 826.9C285.3 827.9 287.1 830.0 287.6 830.8C288.1 831.6 289.0 832.6 288.6 833.1C288.2 833.6 285.6 834.2 284.5 834.6C283.4 835.0 281.4 835.6 280.7 836.2C280.0 836.8 279.6 838.3 279.2 839.2C278.8 840.1 277.8 841.9 277.6 843.1C277.4 844.3 282.2 847.3 277.6 848.0C273.0 848.7 247.6 850.7 243.0 848.0C238.4 845.3 242.2 830.6 243.0 827.7Z" fill="none" stroke="#4a4a4a" stroke-width="3.0"/></g>
<ellipse cx="291.9" cy="823.8" rx="3.0" ry="1.8" transform="rotate(-25 291.9 823.8)" fill="#5a5a5a"/>
<ellipse cx="309.2" cy="814.6" rx="1.8" ry="0.9" transform="rotate(35 309.2 814.6)" fill="#5a5a5a"/>
<circle cx="280.7" cy="828.2" r="1.4" fill="#fff"/>
<circle cx="293.8" cy="815.1" r="1.4" fill="#444"/>
</g>
<path d="M332.3 761.2V847.2" fill="none" stroke="#b4b4b4" stroke-width="1"/>
<path d="M243.3 761.2V847.2" fill="none" stroke="#777" stroke-width="1.4"/>
<path d="M241.5 839.7H243.3M241.5 832.2H243.3M241.5 824.8H243.3M241.5 817.3H243.3M241.5 809.8H243.3M241.5 802.3H243.3M241.5 794.9H243.3M241.5 787.4H243.3M241.5 779.9H243.3M241.5 772.4H243.3M241.5 764.9H243.3M251.0 847.2V849.0M258.8 847.2V849.0M266.5 847.2V849.0M274.3 847.2V849.0M282.0 847.2V849.0M289.7 847.2V849.0M297.5 847.2V849.0M305.2 847.2V849.0M313.0 847.2V849.0M320.7 847.2V849.0M328.4 847.2V849.0" stroke="#9a9a9a" stroke-width="0.8"/>
<text transform="translate(328.5,776.2) scale(1,1.12)" font-size="15.2" text-anchor="end" font-weight="bold" stroke="#000" stroke-width="0.3" >1.7</text>
<text transform="translate(244.1,842.0) scale(1,1.12)" font-size="15.2" text-anchor="start" font-weight="bold" stroke="#000" stroke-width="0.3" >96.0</text>
<path d="M368.09999999999997 761.2V847.2M336.4 824.3H425.5" stroke="#c4c4c4" stroke-width="1"/>
<g clip-path="url(#cp13)">
<path d="M337.0 826.9C337.8 824.0 341.4 826.4 343.2 826.2C345.0 826.0 348.8 825.4 350.8 825.1C352.8 824.8 356.6 824.3 358.5 824.2C360.4 824.1 363.6 824.3 364.7 824.2C365.8 824.1 366.6 823.5 367.0 823.1C367.4 822.7 367.4 821.9 367.8 821.5C368.2 821.1 369.4 820.4 370.1 820.3C370.8 820.2 373.3 820.7 373.4 821.1C373.5 821.5 371.2 822.5 370.8 823.1C370.4 823.7 369.9 824.9 370.1 825.7C370.3 826.5 371.6 828.5 372.4 829.2C373.2 829.9 375.5 830.4 376.2 830.8C376.9 831.2 378.1 831.7 378.0 832.3C377.9 832.9 376.2 834.8 375.5 835.4C374.8 836.0 372.7 836.4 372.4 836.9C372.1 837.4 372.9 838.7 373.2 839.2C373.5 839.7 375.2 840.5 374.9 840.8C374.6 841.1 371.7 841.1 370.8 841.5C369.9 841.9 368.9 842.9 368.5 843.8C368.1 844.7 372.0 847.4 367.8 848.0C363.6 848.6 341.1 850.8 337.0 848.0C332.9 845.2 336.2 829.8 337.0 826.9Z" fill="#727272"/>
<path d="M385.0 819.6C385.4 819.1 387.1 819.0 387.6 818.6C388.1 818.2 388.5 816.4 388.8 816.4C389.1 816.4 389.4 817.9 389.6 818.6C389.8 819.3 390.3 820.7 390.2 821.4C390.1 822.1 389.5 823.6 389.0 824.0C388.5 824.4 386.8 824.4 386.2 824.2C385.6 824.0 384.8 822.8 384.6 822.2C384.4 821.6 384.6 820.1 385.0 819.6Z" fill="#555555" stroke="#4e4e4e" stroke-width="0.6"/>
<g clip-path="url(#bc13)"><rect x="336.4" y="761.2" width="89.10000000000002" height="86.0" fill="url(#g13_0)"/><path d="M337.0 826.9C337.8 824.0 341.4 826.4 343.2 826.2C345.0 826.0 348.8 825.4 350.8 825.1C352.8 824.8 356.6 824.3 358.5 824.2C360.4 824.1 363.6 824.3 364.7 824.2C365.8 824.1 366.6 823.5 367.0 823.1C367.4 822.7 367.4 821.9 367.8 821.5C368.2 821.1 369.4 820.4 370.1 820.3C370.8 820.2 373.3 820.7 373.4 821.1C373.5 821.5 371.2 822.5 370.8 823.1C370.4 823.7 369.9 824.9 370.1 825.7C370.3 826.5 371.6 828.5 372.4 829.2C373.2 829.9 375.5 830.4 376.2 830.8C376.9 831.2 378.1 831.7 378.0 832.3C377.9 832.9 376.2 834.8 375.5 835.4C374.8 836.0 372.7 836.4 372.4 836.9C372.1 837.4 372.9 838.7 373.2 839.2C373.5 839.7 375.2 840.5 374.9 840.8C374.6 841.1 371.7 841.1 370.8 841.5C369.9 841.9 368.9 842.9 368.5 843.8C368.1 844.7 372.0 847.4 367.8 848.0C363.6 848.6 341.1 850.8 337.0 848.0C332.9 845.2 336.2 829.8 337.0 826.9Z" fill="none" stroke="#4a4a4a" stroke-width="3.0"/></g>
<ellipse cx="381.6" cy="819.5" rx="3.0" ry="2.0" transform="rotate(30 381.6 819.5)" fill="#5a5a5a"/>
<ellipse cx="402.4" cy="814.3" rx="2.8" ry="1.8" transform="rotate(30 402.4 814.3)" fill="#5a5a5a"/>
<circle cx="395.2" cy="809.2" r="1.2" fill="#444"/>
</g>
<path d="M425.5 761.2V847.2" fill="none" stroke="#b4b4b4" stroke-width="1"/>
<path d="M336.4 761.2V847.2" fill="none" stroke="#777" stroke-width="1.4"/>
<path d="M334.59999999999997 839.7H336.4M334.59999999999997 832.2H336.4M334.59999999999997 824.8H336.4M334.59999999999997 817.3H336.4M334.59999999999997 809.8H336.4M334.59999999999997 802.3H336.4M334.59999999999997 794.9H336.4M334.59999999999997 787.4H336.4M334.59999999999997 779.9H336.4M334.59999999999997 772.4H336.4M334.59999999999997 764.9H336.4M344.1 847.2V849.0M351.9 847.2V849.0M359.6 847.2V849.0M367.4 847.2V849.0M375.1 847.2V849.0M382.9 847.2V849.0M390.6 847.2V849.0M398.4 847.2V849.0M406.1 847.2V849.0M413.9 847.2V849.0M421.6 847.2V849.0" stroke="#9a9a9a" stroke-width="0.8"/>
<text transform="translate(422.5,776.2) scale(1,1.12)" font-size="15.2" text-anchor="end" font-weight="bold" stroke="#000" stroke-width="0.3" >1.6</text>
<text transform="translate(337.6,842.0) scale(1,1.12)" font-size="15.2" text-anchor="start" font-weight="bold" stroke="#000" stroke-width="0.3" >96.4</text>
<path d="M461.09999999999997 761.2V847.2M429.4 824.3H518.4" stroke="#c4c4c4" stroke-width="1"/>
<g clip-path="url(#cp14)">
<path d="M430.0 827.5C430.8 824.6 434.4 827.1 436.2 826.8C438.0 826.5 441.8 825.6 443.8 825.2C445.8 824.8 449.8 824.0 451.5 823.7C453.2 823.4 455.3 823.1 456.2 822.9C457.1 822.7 457.9 821.9 458.5 821.9C459.1 821.9 460.3 822.5 460.8 822.9C461.3 823.3 461.5 824.5 462.3 824.8C463.1 825.1 465.8 824.9 466.9 824.8C468.0 824.7 469.9 823.8 470.8 823.9C471.7 824.0 473.2 824.7 473.3 825.2C473.4 825.7 472.2 826.9 471.5 827.5C470.8 828.1 468.6 829.3 467.7 829.8C466.8 830.3 464.8 830.8 464.6 831.4C464.4 832.0 465.9 833.5 466.2 834.4C466.5 835.3 467.1 837.4 466.9 838.3C466.7 839.2 465.1 840.5 464.6 841.4C464.1 842.3 463.3 844.2 463.1 845.2C462.9 846.2 467.5 848.1 463.1 848.6C458.7 849.1 434.4 851.4 430.0 848.6C425.6 845.8 429.2 830.4 430.0 827.5Z" fill="#727272"/>
<g clip-path="url(#bc14)"><rect x="429.4" y="761.2" width="89.0" height="86.0" fill="url(#g14_0)"/><path d="M430.0 827.5C430.8 824.6 434.4 827.1 436.2 826.8C438.0 826.5 441.8 825.6 443.8 825.2C445.8 824.8 449.8 824.0 451.5 823.7C453.2 823.4 455.3 823.1 456.2 822.9C457.1 822.7 457.9 821.9 458.5 821.9C459.1 821.9 460.3 822.5 460.8 822.9C461.3 823.3 461.5 824.5 462.3 824.8C463.1 825.1 465.8 824.9 466.9 824.8C468.0 824.7 469.9 823.8 470.8 823.9C471.7 824.0 473.2 824.7 473.3 825.2C473.4 825.7 472.2 826.9 471.5 827.5C470.8 828.1 468.6 829.3 467.7 829.8C466.8 830.3 464.8 830.8 464.6 831.4C464.4 832.0 465.9 833.5 466.2 834.4C466.5 835.3 467.1 837.4 466.9 838.3C466.7 839.2 465.1 840.5 464.6 841.4C464.1 842.3 463.3 844.2 463.1 845.2C462.9 846.2 467.5 848.1 463.1 848.6C458.7 849.1 434.4 851.4 430.0 848.6C425.6 845.8 429.2 830.4 430.0 827.5Z" fill="none" stroke="#4a4a4a" stroke-width="3.0"/></g>
<circle cx="474.6" cy="821.8" r="1.3" fill="#444"/>
<circle cx="469.2" cy="846.5" r="0.9" fill="#444"/>
<circle cx="481.5" cy="847" r="0.7" fill="#444"/>
</g>
<path d="M518.4 761.2V847.2" fill="none" stroke="#b4b4b4" stroke-width="1"/>
<path d="M429.4 761.2V847.2" fill="none" stroke="#777" stroke-width="1.4"/>
<path d="M427.59999999999997 839.7H429.4M427.59999999999997 832.2H429.4M427.59999999999997 824.8H429.4M427.59999999999997 817.3H429.4M427.59999999999997 809.8H429.4M427.59999999999997 802.3H429.4M427.59999999999997 794.9H429.4M427.59999999999997 787.4H429.4M427.59999999999997 779.9H429.4M427.59999999999997 772.4H429.4M427.59999999999997 764.9H429.4M437.1 847.2V849.0M444.9 847.2V849.0M452.6 847.2V849.0M460.4 847.2V849.0M468.1 847.2V849.0M475.8 847.2V849.0M483.6 847.2V849.0M491.3 847.2V849.0M499.1 847.2V849.0M506.8 847.2V849.0M514.5 847.2V849.0" stroke="#9a9a9a" stroke-width="0.8"/>
<text transform="translate(515.5,776.2) scale(1,1.12)" font-size="15.2" text-anchor="end" font-weight="bold" stroke="#000" stroke-width="0.3" >1.2</text>
<text transform="translate(431.7,842.0) scale(1,1.12)" font-size="15.2" text-anchor="start" font-weight="bold" stroke="#000" stroke-width="0.3" >96.6</text>
<path d="M56 670.2H518.9" stroke="#b0b0b0" stroke-width="1.1"/>
<path d="M56 756.4H518.9" stroke="#858585" stroke-width="1.2"/>
<path d="M56 761.2H518.9" stroke="#b0b0b0" stroke-width="1.1"/>
<path d="M56 847.2H518.9" stroke="#858585" stroke-width="1.2"/>
<text transform="translate(294.4,639.6) scale(1,1.12)" font-size="15.2" text-anchor="start" font-weight="bold" stroke="#000" stroke-width="0.3" textLength="99.3" lengthAdjust="spacingAndGlyphs" >IL-27 (ng/mL)</text>
<path d="M178.7 646.3H491.6" stroke="#000" stroke-width="1.5"/>
<text transform="translate(107,663.6) scale(1,1.12)" font-size="15.2" text-anchor="middle" font-weight="bold" stroke="#000" stroke-width="0.3" >0</text>
<text transform="translate(196.5,663.6) scale(1,1.12)" font-size="15.2" text-anchor="middle" font-weight="bold" stroke="#000" stroke-width="0.3" >0.1</text>
<text transform="translate(288.7,663.6) scale(1,1.12)" font-size="15.2" text-anchor="middle" font-weight="bold" stroke="#000" stroke-width="0.3" >1</text>
<text transform="translate(384.3,663.6) scale(1,1.12)" font-size="15.2" text-anchor="middle" font-weight="bold" stroke="#000" stroke-width="0.3" >10</text>
<text transform="translate(474.3,663.6) scale(1,1.12)" font-size="15.2" text-anchor="middle" font-weight="bold" stroke="#000" stroke-width="0.3" >100</text>
<path d="M44.5 669.5L52 688L37 688Z" fill="#000"/>
<rect x="42.4" y="686" width="4.2" height="43.5" fill="#000"/>
<rect x="42.3" y="790" width="4.2" height="56.5" fill="#000"/>
<text transform="translate(49.8,760.3) rotate(-90) scale(1,1.1)" x="0" y="0" font-size="15.2" text-anchor="middle" font-weight="bold" stroke="#000" stroke-width="0.3" textLength="48" lengthAdjust="spacingAndGlyphs">CD133</text>
<rect x="56.9" y="857" width="208" height="4.2" fill="#000"/>
<rect x="317" y="857" width="182" height="4.2" fill="#000"/>
<path d="M515.6 859L497.7 851.8L497.7 866Z" fill="#000"/>
<text transform="translate(270.2,864.8) scale(1,1.12)" font-size="16" text-anchor="start" font-weight="bold" stroke="#000" stroke-width="0.3" textLength="40.8" lengthAdjust="spacingAndGlyphs" >CD34</text>
<path d="M19.5 693V823" stroke="#000" stroke-width="1.5"/>
<text transform="translate(11.8,766.4) rotate(-90) scale(1,1.12)" x="0" y="0" font-size="15.2" text-anchor="middle" font-weight="bold" stroke="#000" stroke-width="0.3" textLength="93.6" lengthAdjust="spacingAndGlyphs">IL-6 + sIL-6R</text>
<text transform="translate(11.8,714) rotate(-90)" text-anchor="middle" font-family="Liberation Serif" font-size="16.5" textLength="9.6" lengthAdjust="spacingAndGlyphs" stroke="#000" stroke-width="0.2">&#945;</text>
<rect x="29.7" y="709.8" width="2.6" height="10.6" fill="#000"/>
<path d="M24.9 804.8H36.1M30.5 799.3V810.4" stroke="#000" stroke-width="2.6"/>
</svg>
</body></html>
